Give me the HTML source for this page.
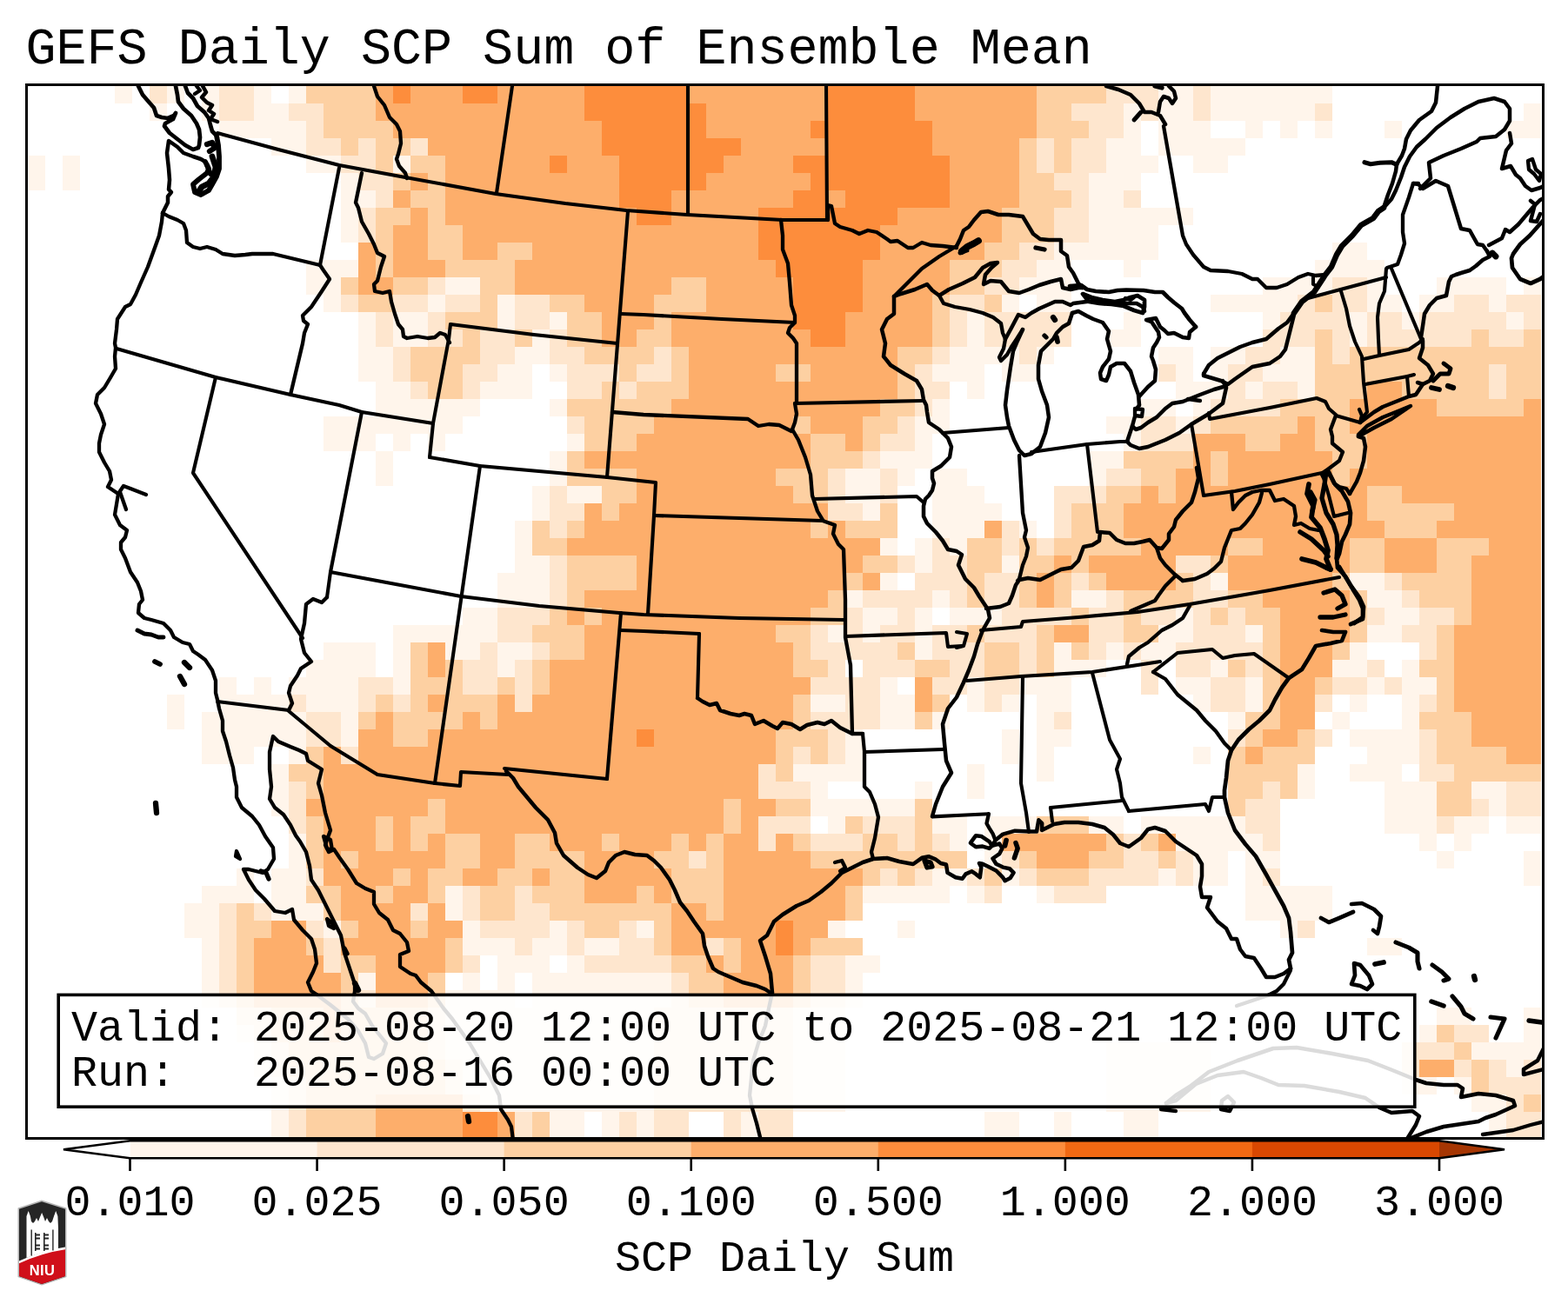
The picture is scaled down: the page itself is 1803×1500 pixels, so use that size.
<!DOCTYPE html>
<html><head><meta charset="utf-8"><title>GEFS Daily SCP Sum of Ensemble Mean</title>
<style>
html,body{margin:0;padding:0;background:#fff;}
svg{display:block;}
.t{font-family:"Liberation Mono","DejaVu Sans Mono",monospace;font-size:50px;fill:#000;}
.ttl{font-family:"Liberation Mono","DejaVu Sans Mono",monospace;font-size:58.4px;fill:#000;}
</style></head><body>
<svg xmlns="http://www.w3.org/2000/svg" width="1803" height="1500" viewBox="0 0 1803 1500">
<rect x="0" y="0" width="1803" height="1500" fill="#fff"/>
<defs><clipPath id="fr"><rect x="32" y="99" width="1741" height="1209"/></clipPath></defs>
<g clip-path="url(#fr)">
<g shape-rendering="crispEdges">
<rect x="132" y="99" width="20" height="20" fill="#fff5eb"/>
<rect x="172" y="99" width="20" height="20" fill="#fee6ce"/>
<rect x="192" y="99" width="20" height="20" fill="#fff5eb"/>
<rect x="232" y="99" width="20" height="20" fill="#fff5eb"/>
<rect x="252" y="99" width="40" height="20" fill="#fee6ce"/>
<rect x="292" y="99" width="20" height="20" fill="#fff5eb"/>
<rect x="332" y="99" width="20" height="20" fill="#fff5eb"/>
<rect x="352" y="99" width="80" height="20" fill="#fdd0a2"/>
<rect x="432" y="99" width="20" height="20" fill="#fdae6b"/>
<rect x="452" y="99" width="20" height="20" fill="#fd8d3c"/>
<rect x="472" y="99" width="60" height="20" fill="#fdae6b"/>
<rect x="532" y="99" width="40" height="20" fill="#fd8d3c"/>
<rect x="572" y="99" width="100" height="20" fill="#fdae6b"/>
<rect x="672" y="99" width="120" height="20" fill="#fd8d3c"/>
<rect x="792" y="99" width="160" height="20" fill="#fdae6b"/>
<rect x="952" y="99" width="100" height="20" fill="#fd8d3c"/>
<rect x="1052" y="99" width="140" height="20" fill="#fdae6b"/>
<rect x="1192" y="99" width="80" height="20" fill="#fdd0a2"/>
<rect x="1272" y="99" width="60" height="20" fill="#fee6ce"/>
<rect x="1332" y="99" width="40" height="20" fill="#fff5eb"/>
<rect x="1372" y="99" width="20" height="20" fill="#fee6ce"/>
<rect x="1392" y="99" width="140" height="20" fill="#fff5eb"/>
<rect x="172" y="119" width="20" height="20" fill="#fff5eb"/>
<rect x="232" y="119" width="20" height="20" fill="#fff5eb"/>
<rect x="252" y="119" width="40" height="20" fill="#fee6ce"/>
<rect x="292" y="119" width="40" height="20" fill="#fff5eb"/>
<rect x="332" y="119" width="40" height="20" fill="#fee6ce"/>
<rect x="372" y="119" width="60" height="20" fill="#fdd0a2"/>
<rect x="432" y="119" width="240" height="20" fill="#fdae6b"/>
<rect x="672" y="119" width="140" height="20" fill="#fd8d3c"/>
<rect x="812" y="119" width="140" height="20" fill="#fdae6b"/>
<rect x="952" y="119" width="100" height="20" fill="#fd8d3c"/>
<rect x="1052" y="119" width="140" height="20" fill="#fdae6b"/>
<rect x="1192" y="119" width="40" height="20" fill="#fdd0a2"/>
<rect x="1232" y="119" width="60" height="20" fill="#fee6ce"/>
<rect x="1292" y="119" width="20" height="20" fill="#fff5eb"/>
<rect x="1312" y="119" width="20" height="20" fill="#fee6ce"/>
<rect x="1332" y="119" width="40" height="20" fill="#fff5eb"/>
<rect x="1372" y="119" width="20" height="20" fill="#fee6ce"/>
<rect x="1392" y="119" width="120" height="20" fill="#fff5eb"/>
<rect x="1512" y="119" width="20" height="20" fill="#fee6ce"/>
<rect x="1752" y="119" width="20" height="20" fill="#fff5eb"/>
<rect x="252" y="139" width="100" height="20" fill="#fff5eb"/>
<rect x="352" y="139" width="20" height="20" fill="#fee6ce"/>
<rect x="372" y="139" width="80" height="20" fill="#fdd0a2"/>
<rect x="452" y="139" width="240" height="20" fill="#fdae6b"/>
<rect x="692" y="139" width="120" height="20" fill="#fd8d3c"/>
<rect x="812" y="139" width="120" height="20" fill="#fdae6b"/>
<rect x="932" y="139" width="140" height="20" fill="#fd8d3c"/>
<rect x="1072" y="139" width="120" height="20" fill="#fdae6b"/>
<rect x="1192" y="139" width="60" height="20" fill="#fdd0a2"/>
<rect x="1252" y="139" width="40" height="20" fill="#fee6ce"/>
<rect x="1292" y="139" width="20" height="20" fill="#fff5eb"/>
<rect x="1332" y="139" width="60" height="20" fill="#fff5eb"/>
<rect x="1432" y="139" width="20" height="20" fill="#fff5eb"/>
<rect x="1472" y="139" width="20" height="20" fill="#fff5eb"/>
<rect x="1512" y="139" width="20" height="20" fill="#fff5eb"/>
<rect x="1592" y="139" width="20" height="20" fill="#fff5eb"/>
<rect x="1732" y="139" width="40" height="20" fill="#fff5eb"/>
<rect x="312" y="159" width="40" height="20" fill="#fff5eb"/>
<rect x="352" y="159" width="40" height="20" fill="#fee6ce"/>
<rect x="392" y="159" width="20" height="20" fill="#fdd0a2"/>
<rect x="412" y="159" width="20" height="20" fill="#fee6ce"/>
<rect x="432" y="159" width="40" height="20" fill="#fdd0a2"/>
<rect x="472" y="159" width="20" height="20" fill="#fee6ce"/>
<rect x="492" y="159" width="200" height="20" fill="#fdae6b"/>
<rect x="692" y="159" width="160" height="20" fill="#fd8d3c"/>
<rect x="852" y="159" width="100" height="20" fill="#fdae6b"/>
<rect x="952" y="159" width="120" height="20" fill="#fd8d3c"/>
<rect x="1072" y="159" width="100" height="20" fill="#fdae6b"/>
<rect x="1172" y="159" width="20" height="20" fill="#fdd0a2"/>
<rect x="1192" y="159" width="20" height="20" fill="#fee6ce"/>
<rect x="1212" y="159" width="20" height="20" fill="#fdd0a2"/>
<rect x="1232" y="159" width="40" height="20" fill="#fee6ce"/>
<rect x="1272" y="159" width="40" height="20" fill="#fff5eb"/>
<rect x="1332" y="159" width="100" height="20" fill="#fff5eb"/>
<rect x="32" y="179" width="20" height="20" fill="#fff5eb"/>
<rect x="72" y="179" width="20" height="20" fill="#fff5eb"/>
<rect x="352" y="179" width="40" height="20" fill="#fff5eb"/>
<rect x="392" y="179" width="40" height="20" fill="#fee6ce"/>
<rect x="432" y="179" width="20" height="20" fill="#fdd0a2"/>
<rect x="452" y="179" width="20" height="20" fill="#fff5eb"/>
<rect x="472" y="179" width="40" height="20" fill="#fdd0a2"/>
<rect x="512" y="179" width="120" height="20" fill="#fdae6b"/>
<rect x="632" y="179" width="20" height="20" fill="#fd8d3c"/>
<rect x="652" y="179" width="60" height="20" fill="#fdae6b"/>
<rect x="712" y="179" width="120" height="20" fill="#fd8d3c"/>
<rect x="832" y="179" width="80" height="20" fill="#fdae6b"/>
<rect x="912" y="179" width="180" height="20" fill="#fd8d3c"/>
<rect x="1092" y="179" width="80" height="20" fill="#fdae6b"/>
<rect x="1172" y="179" width="20" height="20" fill="#fdd0a2"/>
<rect x="1192" y="179" width="20" height="20" fill="#fee6ce"/>
<rect x="1212" y="179" width="20" height="20" fill="#fdd0a2"/>
<rect x="1232" y="179" width="40" height="20" fill="#fee6ce"/>
<rect x="1272" y="179" width="60" height="20" fill="#fff5eb"/>
<rect x="1372" y="179" width="40" height="20" fill="#fff5eb"/>
<rect x="32" y="199" width="20" height="20" fill="#fff5eb"/>
<rect x="72" y="199" width="20" height="20" fill="#fff5eb"/>
<rect x="392" y="199" width="20" height="20" fill="#fff5eb"/>
<rect x="412" y="199" width="40" height="20" fill="#fee6ce"/>
<rect x="452" y="199" width="20" height="20" fill="#fdd0a2"/>
<rect x="472" y="199" width="20" height="20" fill="#fdae6b"/>
<rect x="492" y="199" width="20" height="20" fill="#fdd0a2"/>
<rect x="512" y="199" width="200" height="20" fill="#fdae6b"/>
<rect x="712" y="199" width="100" height="20" fill="#fd8d3c"/>
<rect x="812" y="199" width="120" height="20" fill="#fdae6b"/>
<rect x="932" y="199" width="160" height="20" fill="#fd8d3c"/>
<rect x="1092" y="199" width="80" height="20" fill="#fdae6b"/>
<rect x="1172" y="199" width="40" height="20" fill="#fdd0a2"/>
<rect x="1212" y="199" width="40" height="20" fill="#fee6ce"/>
<rect x="1252" y="199" width="60" height="20" fill="#fff5eb"/>
<rect x="392" y="219" width="40" height="20" fill="#fff5eb"/>
<rect x="432" y="219" width="20" height="20" fill="#fee6ce"/>
<rect x="452" y="219" width="20" height="20" fill="#fdae6b"/>
<rect x="472" y="219" width="40" height="20" fill="#fdd0a2"/>
<rect x="512" y="219" width="200" height="20" fill="#fdae6b"/>
<rect x="712" y="219" width="60" height="20" fill="#fd8d3c"/>
<rect x="772" y="219" width="140" height="20" fill="#fdae6b"/>
<rect x="912" y="219" width="40" height="20" fill="#fd8d3c"/>
<rect x="952" y="219" width="20" height="20" fill="#fdae6b"/>
<rect x="972" y="219" width="120" height="20" fill="#fd8d3c"/>
<rect x="1092" y="219" width="80" height="20" fill="#fdae6b"/>
<rect x="1172" y="219" width="60" height="20" fill="#fdd0a2"/>
<rect x="1232" y="219" width="20" height="20" fill="#fee6ce"/>
<rect x="1252" y="219" width="40" height="20" fill="#fff5eb"/>
<rect x="1292" y="219" width="20" height="20" fill="#fee6ce"/>
<rect x="392" y="239" width="20" height="20" fill="#fff5eb"/>
<rect x="412" y="239" width="20" height="20" fill="#fee6ce"/>
<rect x="432" y="239" width="40" height="20" fill="#fdd0a2"/>
<rect x="472" y="239" width="20" height="20" fill="#fdae6b"/>
<rect x="492" y="239" width="20" height="20" fill="#fdd0a2"/>
<rect x="512" y="239" width="220" height="20" fill="#fdae6b"/>
<rect x="732" y="239" width="40" height="20" fill="#fd8d3c"/>
<rect x="772" y="239" width="100" height="20" fill="#fdae6b"/>
<rect x="872" y="239" width="160" height="20" fill="#fd8d3c"/>
<rect x="1032" y="239" width="120" height="20" fill="#fdae6b"/>
<rect x="1152" y="239" width="60" height="20" fill="#fdd0a2"/>
<rect x="1212" y="239" width="40" height="20" fill="#fee6ce"/>
<rect x="1252" y="239" width="120" height="20" fill="#fff5eb"/>
<rect x="392" y="259" width="20" height="20" fill="#fff5eb"/>
<rect x="412" y="259" width="20" height="20" fill="#fee6ce"/>
<rect x="432" y="259" width="20" height="20" fill="#fdd0a2"/>
<rect x="452" y="259" width="40" height="20" fill="#fdae6b"/>
<rect x="492" y="259" width="40" height="20" fill="#fdd0a2"/>
<rect x="532" y="259" width="340" height="20" fill="#fdae6b"/>
<rect x="872" y="259" width="140" height="20" fill="#fd8d3c"/>
<rect x="1012" y="259" width="140" height="20" fill="#fdae6b"/>
<rect x="1152" y="259" width="60" height="20" fill="#fdd0a2"/>
<rect x="1212" y="259" width="40" height="20" fill="#fee6ce"/>
<rect x="1252" y="259" width="80" height="20" fill="#fff5eb"/>
<rect x="412" y="279" width="20" height="20" fill="#fdae6b"/>
<rect x="432" y="279" width="20" height="20" fill="#fdd0a2"/>
<rect x="452" y="279" width="40" height="20" fill="#fdae6b"/>
<rect x="492" y="279" width="40" height="20" fill="#fdd0a2"/>
<rect x="532" y="279" width="40" height="20" fill="#fdae6b"/>
<rect x="572" y="279" width="40" height="20" fill="#fdd0a2"/>
<rect x="612" y="279" width="260" height="20" fill="#fdae6b"/>
<rect x="872" y="279" width="140" height="20" fill="#fd8d3c"/>
<rect x="1012" y="279" width="120" height="20" fill="#fdae6b"/>
<rect x="1132" y="279" width="40" height="20" fill="#fdd0a2"/>
<rect x="1172" y="279" width="40" height="20" fill="#fee6ce"/>
<rect x="1212" y="279" width="120" height="20" fill="#fff5eb"/>
<rect x="1532" y="279" width="40" height="20" fill="#fff5eb"/>
<rect x="352" y="299" width="60" height="20" fill="#fff5eb"/>
<rect x="412" y="299" width="20" height="20" fill="#fdae6b"/>
<rect x="432" y="299" width="20" height="20" fill="#fdd0a2"/>
<rect x="452" y="299" width="60" height="20" fill="#fdae6b"/>
<rect x="512" y="299" width="80" height="20" fill="#fdd0a2"/>
<rect x="592" y="299" width="300" height="20" fill="#fdae6b"/>
<rect x="892" y="299" width="100" height="20" fill="#fd8d3c"/>
<rect x="992" y="299" width="100" height="20" fill="#fdae6b"/>
<rect x="1092" y="299" width="60" height="20" fill="#fdd0a2"/>
<rect x="1152" y="299" width="40" height="20" fill="#fee6ce"/>
<rect x="1192" y="299" width="40" height="20" fill="#fff5eb"/>
<rect x="1292" y="299" width="20" height="20" fill="#fff5eb"/>
<rect x="1512" y="299" width="80" height="20" fill="#fff5eb"/>
<rect x="352" y="319" width="40" height="20" fill="#fff5eb"/>
<rect x="392" y="319" width="20" height="20" fill="#fdd0a2"/>
<rect x="412" y="319" width="40" height="20" fill="#fdae6b"/>
<rect x="452" y="319" width="40" height="20" fill="#fdd0a2"/>
<rect x="492" y="319" width="20" height="20" fill="#fee6ce"/>
<rect x="512" y="319" width="40" height="20" fill="#fff5eb"/>
<rect x="552" y="319" width="40" height="20" fill="#fdd0a2"/>
<rect x="592" y="319" width="180" height="20" fill="#fdae6b"/>
<rect x="772" y="319" width="40" height="20" fill="#fdd0a2"/>
<rect x="812" y="319" width="100" height="20" fill="#fdae6b"/>
<rect x="912" y="319" width="80" height="20" fill="#fd8d3c"/>
<rect x="992" y="319" width="100" height="20" fill="#fdae6b"/>
<rect x="1092" y="319" width="40" height="20" fill="#fdd0a2"/>
<rect x="1132" y="319" width="40" height="20" fill="#fee6ce"/>
<rect x="1172" y="319" width="60" height="20" fill="#fff5eb"/>
<rect x="1452" y="319" width="80" height="20" fill="#fff5eb"/>
<rect x="1532" y="319" width="40" height="20" fill="#fee6ce"/>
<rect x="1572" y="319" width="20" height="20" fill="#fff5eb"/>
<rect x="1652" y="319" width="80" height="20" fill="#fff5eb"/>
<rect x="1752" y="319" width="20" height="20" fill="#fff5eb"/>
<rect x="372" y="339" width="20" height="20" fill="#fff5eb"/>
<rect x="392" y="339" width="20" height="20" fill="#fee6ce"/>
<rect x="412" y="339" width="40" height="20" fill="#fdd0a2"/>
<rect x="452" y="339" width="40" height="20" fill="#fee6ce"/>
<rect x="492" y="339" width="20" height="20" fill="#fff5eb"/>
<rect x="512" y="339" width="40" height="20" fill="#fee6ce"/>
<rect x="552" y="339" width="20" height="20" fill="#fdd0a2"/>
<rect x="572" y="339" width="20" height="20" fill="#fff5eb"/>
<rect x="592" y="339" width="40" height="20" fill="#fee6ce"/>
<rect x="632" y="339" width="40" height="20" fill="#fdd0a2"/>
<rect x="672" y="339" width="80" height="20" fill="#fdae6b"/>
<rect x="752" y="339" width="60" height="20" fill="#fdd0a2"/>
<rect x="812" y="339" width="100" height="20" fill="#fdae6b"/>
<rect x="912" y="339" width="80" height="20" fill="#fd8d3c"/>
<rect x="992" y="339" width="80" height="20" fill="#fdae6b"/>
<rect x="1072" y="339" width="20" height="20" fill="#fdd0a2"/>
<rect x="1092" y="339" width="40" height="20" fill="#fee6ce"/>
<rect x="1132" y="339" width="20" height="20" fill="#fdd0a2"/>
<rect x="1152" y="339" width="20" height="20" fill="#fff5eb"/>
<rect x="1192" y="339" width="40" height="20" fill="#fff5eb"/>
<rect x="1392" y="339" width="100" height="20" fill="#fff5eb"/>
<rect x="1492" y="339" width="20" height="20" fill="#fee6ce"/>
<rect x="1512" y="339" width="20" height="20" fill="#fdd0a2"/>
<rect x="1532" y="339" width="40" height="20" fill="#fee6ce"/>
<rect x="1572" y="339" width="40" height="20" fill="#fff5eb"/>
<rect x="1632" y="339" width="40" height="20" fill="#fff5eb"/>
<rect x="1672" y="339" width="40" height="20" fill="#fee6ce"/>
<rect x="1712" y="339" width="20" height="20" fill="#fff5eb"/>
<rect x="1732" y="339" width="40" height="20" fill="#fee6ce"/>
<rect x="412" y="359" width="20" height="20" fill="#fff5eb"/>
<rect x="432" y="359" width="20" height="20" fill="#fee6ce"/>
<rect x="452" y="359" width="40" height="20" fill="#fff5eb"/>
<rect x="492" y="359" width="20" height="20" fill="#fee6ce"/>
<rect x="512" y="359" width="60" height="20" fill="#fdd0a2"/>
<rect x="572" y="359" width="20" height="20" fill="#fff5eb"/>
<rect x="592" y="359" width="40" height="20" fill="#fee6ce"/>
<rect x="632" y="359" width="20" height="20" fill="#fff5eb"/>
<rect x="652" y="359" width="40" height="20" fill="#fdd0a2"/>
<rect x="692" y="359" width="60" height="20" fill="#fdae6b"/>
<rect x="752" y="359" width="20" height="20" fill="#fdd0a2"/>
<rect x="772" y="359" width="140" height="20" fill="#fdae6b"/>
<rect x="912" y="359" width="60" height="20" fill="#fd8d3c"/>
<rect x="972" y="359" width="100" height="20" fill="#fdae6b"/>
<rect x="1072" y="359" width="20" height="20" fill="#fdd0a2"/>
<rect x="1092" y="359" width="20" height="20" fill="#fee6ce"/>
<rect x="1112" y="359" width="20" height="20" fill="#fff5eb"/>
<rect x="1132" y="359" width="100" height="20" fill="#fee6ce"/>
<rect x="1292" y="359" width="20" height="20" fill="#fff5eb"/>
<rect x="1452" y="359" width="20" height="20" fill="#fff5eb"/>
<rect x="1472" y="359" width="80" height="20" fill="#fee6ce"/>
<rect x="1552" y="359" width="20" height="20" fill="#fff5eb"/>
<rect x="1572" y="359" width="40" height="20" fill="#fee6ce"/>
<rect x="1612" y="359" width="20" height="20" fill="#fff5eb"/>
<rect x="1632" y="359" width="100" height="20" fill="#fee6ce"/>
<rect x="1732" y="359" width="20" height="20" fill="#fff5eb"/>
<rect x="1752" y="359" width="20" height="20" fill="#fee6ce"/>
<rect x="412" y="379" width="20" height="20" fill="#fff5eb"/>
<rect x="432" y="379" width="20" height="20" fill="#fee6ce"/>
<rect x="452" y="379" width="40" height="20" fill="#fff5eb"/>
<rect x="492" y="379" width="40" height="20" fill="#fee6ce"/>
<rect x="532" y="379" width="20" height="20" fill="#fdd0a2"/>
<rect x="552" y="379" width="40" height="20" fill="#fee6ce"/>
<rect x="592" y="379" width="20" height="20" fill="#fdd0a2"/>
<rect x="612" y="379" width="20" height="20" fill="#fff5eb"/>
<rect x="632" y="379" width="20" height="20" fill="#fee6ce"/>
<rect x="652" y="379" width="40" height="20" fill="#fdd0a2"/>
<rect x="692" y="379" width="40" height="20" fill="#fdae6b"/>
<rect x="732" y="379" width="40" height="20" fill="#fdd0a2"/>
<rect x="772" y="379" width="160" height="20" fill="#fdae6b"/>
<rect x="932" y="379" width="40" height="20" fill="#fd8d3c"/>
<rect x="972" y="379" width="100" height="20" fill="#fdae6b"/>
<rect x="1072" y="379" width="20" height="20" fill="#fdd0a2"/>
<rect x="1092" y="379" width="20" height="20" fill="#fee6ce"/>
<rect x="1112" y="379" width="20" height="20" fill="#fff5eb"/>
<rect x="1132" y="379" width="100" height="20" fill="#fee6ce"/>
<rect x="1272" y="379" width="40" height="20" fill="#fff5eb"/>
<rect x="1452" y="379" width="60" height="20" fill="#fee6ce"/>
<rect x="1512" y="379" width="20" height="20" fill="#fdd0a2"/>
<rect x="1532" y="379" width="20" height="20" fill="#fee6ce"/>
<rect x="1552" y="379" width="20" height="20" fill="#fff5eb"/>
<rect x="1572" y="379" width="120" height="20" fill="#fee6ce"/>
<rect x="1692" y="379" width="20" height="20" fill="#fdd0a2"/>
<rect x="1712" y="379" width="40" height="20" fill="#fee6ce"/>
<rect x="1752" y="379" width="20" height="20" fill="#fdd0a2"/>
<rect x="412" y="399" width="40" height="20" fill="#fff5eb"/>
<rect x="452" y="399" width="20" height="20" fill="#fee6ce"/>
<rect x="472" y="399" width="80" height="20" fill="#fdd0a2"/>
<rect x="552" y="399" width="40" height="20" fill="#fee6ce"/>
<rect x="592" y="399" width="40" height="20" fill="#fff5eb"/>
<rect x="632" y="399" width="40" height="20" fill="#fee6ce"/>
<rect x="672" y="399" width="80" height="20" fill="#fdd0a2"/>
<rect x="752" y="399" width="20" height="20" fill="#fee6ce"/>
<rect x="772" y="399" width="20" height="20" fill="#fdd0a2"/>
<rect x="792" y="399" width="240" height="20" fill="#fdae6b"/>
<rect x="1032" y="399" width="40" height="20" fill="#fdd0a2"/>
<rect x="1072" y="399" width="20" height="20" fill="#fee6ce"/>
<rect x="1092" y="399" width="80" height="20" fill="#fff5eb"/>
<rect x="1172" y="399" width="20" height="20" fill="#fee6ce"/>
<rect x="1192" y="399" width="20" height="20" fill="#fff5eb"/>
<rect x="1332" y="399" width="40" height="20" fill="#fff5eb"/>
<rect x="1392" y="399" width="40" height="20" fill="#fff5eb"/>
<rect x="1432" y="399" width="40" height="20" fill="#fee6ce"/>
<rect x="1472" y="399" width="40" height="20" fill="#fff5eb"/>
<rect x="1512" y="399" width="20" height="20" fill="#fdd0a2"/>
<rect x="1532" y="399" width="20" height="20" fill="#fee6ce"/>
<rect x="1552" y="399" width="220" height="20" fill="#fdd0a2"/>
<rect x="412" y="419" width="40" height="20" fill="#fff5eb"/>
<rect x="452" y="419" width="20" height="20" fill="#fee6ce"/>
<rect x="472" y="419" width="60" height="20" fill="#fdd0a2"/>
<rect x="532" y="419" width="40" height="20" fill="#fee6ce"/>
<rect x="572" y="419" width="40" height="20" fill="#fff5eb"/>
<rect x="632" y="419" width="20" height="20" fill="#fff5eb"/>
<rect x="652" y="419" width="60" height="20" fill="#fee6ce"/>
<rect x="712" y="419" width="20" height="20" fill="#fdd0a2"/>
<rect x="732" y="419" width="40" height="20" fill="#fee6ce"/>
<rect x="772" y="419" width="20" height="20" fill="#fdd0a2"/>
<rect x="792" y="419" width="100" height="20" fill="#fdae6b"/>
<rect x="892" y="419" width="40" height="20" fill="#fdd0a2"/>
<rect x="932" y="419" width="100" height="20" fill="#fdae6b"/>
<rect x="1032" y="419" width="20" height="20" fill="#fdd0a2"/>
<rect x="1052" y="419" width="20" height="20" fill="#fee6ce"/>
<rect x="1072" y="419" width="60" height="20" fill="#fff5eb"/>
<rect x="1152" y="419" width="40" height="20" fill="#fff5eb"/>
<rect x="1332" y="419" width="20" height="20" fill="#fee6ce"/>
<rect x="1352" y="419" width="20" height="20" fill="#fff5eb"/>
<rect x="1392" y="419" width="20" height="20" fill="#fff5eb"/>
<rect x="1412" y="419" width="40" height="20" fill="#fee6ce"/>
<rect x="1452" y="419" width="60" height="20" fill="#fff5eb"/>
<rect x="1512" y="419" width="200" height="20" fill="#fdd0a2"/>
<rect x="1712" y="419" width="20" height="20" fill="#fee6ce"/>
<rect x="1732" y="419" width="40" height="20" fill="#fdd0a2"/>
<rect x="432" y="439" width="40" height="20" fill="#fff5eb"/>
<rect x="472" y="439" width="20" height="20" fill="#fee6ce"/>
<rect x="492" y="439" width="40" height="20" fill="#fdd0a2"/>
<rect x="532" y="439" width="20" height="20" fill="#fee6ce"/>
<rect x="552" y="439" width="60" height="20" fill="#fff5eb"/>
<rect x="652" y="439" width="40" height="20" fill="#fee6ce"/>
<rect x="692" y="439" width="20" height="20" fill="#fdd0a2"/>
<rect x="712" y="439" width="20" height="20" fill="#fee6ce"/>
<rect x="732" y="439" width="60" height="20" fill="#fdd0a2"/>
<rect x="792" y="439" width="240" height="20" fill="#fdae6b"/>
<rect x="1032" y="439" width="20" height="20" fill="#fdd0a2"/>
<rect x="1052" y="439" width="40" height="20" fill="#fee6ce"/>
<rect x="1112" y="439" width="20" height="20" fill="#fff5eb"/>
<rect x="1352" y="439" width="60" height="20" fill="#fff5eb"/>
<rect x="1412" y="439" width="20" height="20" fill="#fee6ce"/>
<rect x="1432" y="439" width="20" height="20" fill="#fff5eb"/>
<rect x="1452" y="439" width="40" height="20" fill="#fee6ce"/>
<rect x="1492" y="439" width="20" height="20" fill="#fff5eb"/>
<rect x="1512" y="439" width="60" height="20" fill="#fdd0a2"/>
<rect x="1572" y="439" width="40" height="20" fill="#fdae6b"/>
<rect x="1612" y="439" width="100" height="20" fill="#fdd0a2"/>
<rect x="1712" y="439" width="20" height="20" fill="#fee6ce"/>
<rect x="1732" y="439" width="40" height="20" fill="#fdd0a2"/>
<rect x="432" y="459" width="120" height="20" fill="#fff5eb"/>
<rect x="632" y="459" width="20" height="20" fill="#fff5eb"/>
<rect x="652" y="459" width="120" height="20" fill="#fdd0a2"/>
<rect x="772" y="459" width="240" height="20" fill="#fdae6b"/>
<rect x="1012" y="459" width="40" height="20" fill="#fdd0a2"/>
<rect x="1052" y="459" width="20" height="20" fill="#fee6ce"/>
<rect x="1072" y="459" width="20" height="20" fill="#fff5eb"/>
<rect x="1312" y="459" width="40" height="20" fill="#fff5eb"/>
<rect x="1372" y="459" width="20" height="20" fill="#fff5eb"/>
<rect x="1392" y="459" width="80" height="20" fill="#fee6ce"/>
<rect x="1472" y="459" width="80" height="20" fill="#fdd0a2"/>
<rect x="1552" y="459" width="100" height="20" fill="#fdae6b"/>
<rect x="1652" y="459" width="100" height="20" fill="#fdd0a2"/>
<rect x="1752" y="459" width="20" height="20" fill="#fdae6b"/>
<rect x="372" y="479" width="160" height="20" fill="#fff5eb"/>
<rect x="652" y="479" width="20" height="20" fill="#fee6ce"/>
<rect x="672" y="479" width="80" height="20" fill="#fdd0a2"/>
<rect x="752" y="479" width="160" height="20" fill="#fdae6b"/>
<rect x="912" y="479" width="20" height="20" fill="#fdd0a2"/>
<rect x="932" y="479" width="60" height="20" fill="#fdae6b"/>
<rect x="992" y="479" width="40" height="20" fill="#fdd0a2"/>
<rect x="1032" y="479" width="20" height="20" fill="#fee6ce"/>
<rect x="1052" y="479" width="40" height="20" fill="#fff5eb"/>
<rect x="1272" y="479" width="40" height="20" fill="#fff5eb"/>
<rect x="1312" y="479" width="40" height="20" fill="#fee6ce"/>
<rect x="1352" y="479" width="20" height="20" fill="#fff5eb"/>
<rect x="1372" y="479" width="20" height="20" fill="#fee6ce"/>
<rect x="1392" y="479" width="100" height="20" fill="#fdd0a2"/>
<rect x="1492" y="479" width="20" height="20" fill="#fdae6b"/>
<rect x="1512" y="479" width="40" height="20" fill="#fdd0a2"/>
<rect x="1552" y="479" width="220" height="20" fill="#fdae6b"/>
<rect x="372" y="499" width="60" height="20" fill="#fff5eb"/>
<rect x="452" y="499" width="20" height="20" fill="#fff5eb"/>
<rect x="492" y="499" width="20" height="20" fill="#fff5eb"/>
<rect x="652" y="499" width="20" height="20" fill="#fff5eb"/>
<rect x="672" y="499" width="60" height="20" fill="#fdd0a2"/>
<rect x="732" y="499" width="200" height="20" fill="#fdae6b"/>
<rect x="932" y="499" width="40" height="20" fill="#fdd0a2"/>
<rect x="972" y="499" width="20" height="20" fill="#fdae6b"/>
<rect x="992" y="499" width="20" height="20" fill="#fdd0a2"/>
<rect x="1012" y="499" width="40" height="20" fill="#fee6ce"/>
<rect x="1052" y="499" width="20" height="20" fill="#fff5eb"/>
<rect x="1292" y="499" width="20" height="20" fill="#fff5eb"/>
<rect x="1312" y="499" width="60" height="20" fill="#fee6ce"/>
<rect x="1372" y="499" width="60" height="20" fill="#fdae6b"/>
<rect x="1432" y="499" width="40" height="20" fill="#fdd0a2"/>
<rect x="1472" y="499" width="40" height="20" fill="#fdae6b"/>
<rect x="1512" y="499" width="60" height="20" fill="#fdd0a2"/>
<rect x="1572" y="499" width="200" height="20" fill="#fdae6b"/>
<rect x="432" y="519" width="20" height="20" fill="#fff5eb"/>
<rect x="632" y="519" width="20" height="20" fill="#fff5eb"/>
<rect x="652" y="519" width="20" height="20" fill="#fdd0a2"/>
<rect x="672" y="519" width="260" height="20" fill="#fdae6b"/>
<rect x="932" y="519" width="60" height="20" fill="#fdd0a2"/>
<rect x="992" y="519" width="20" height="20" fill="#fee6ce"/>
<rect x="1012" y="519" width="60" height="20" fill="#fff5eb"/>
<rect x="1252" y="519" width="40" height="20" fill="#fff5eb"/>
<rect x="1292" y="519" width="80" height="20" fill="#fdd0a2"/>
<rect x="1372" y="519" width="20" height="20" fill="#fdae6b"/>
<rect x="1392" y="519" width="20" height="20" fill="#fdd0a2"/>
<rect x="1412" y="519" width="120" height="20" fill="#fdae6b"/>
<rect x="1532" y="519" width="40" height="20" fill="#fdd0a2"/>
<rect x="1572" y="519" width="200" height="20" fill="#fdae6b"/>
<rect x="432" y="539" width="20" height="20" fill="#fff5eb"/>
<rect x="632" y="539" width="20" height="20" fill="#fff5eb"/>
<rect x="652" y="539" width="80" height="20" fill="#fdd0a2"/>
<rect x="732" y="539" width="160" height="20" fill="#fdae6b"/>
<rect x="892" y="539" width="60" height="20" fill="#fdd0a2"/>
<rect x="952" y="539" width="20" height="20" fill="#fee6ce"/>
<rect x="972" y="539" width="40" height="20" fill="#fff5eb"/>
<rect x="1012" y="539" width="20" height="20" fill="#fee6ce"/>
<rect x="1032" y="539" width="20" height="20" fill="#fff5eb"/>
<rect x="1072" y="539" width="40" height="20" fill="#fff5eb"/>
<rect x="1252" y="539" width="20" height="20" fill="#fff5eb"/>
<rect x="1272" y="539" width="40" height="20" fill="#fee6ce"/>
<rect x="1312" y="539" width="40" height="20" fill="#fdd0a2"/>
<rect x="1352" y="539" width="40" height="20" fill="#fdae6b"/>
<rect x="1392" y="539" width="20" height="20" fill="#fdd0a2"/>
<rect x="1412" y="539" width="120" height="20" fill="#fdae6b"/>
<rect x="1532" y="539" width="20" height="20" fill="#fdd0a2"/>
<rect x="1552" y="539" width="220" height="20" fill="#fdae6b"/>
<rect x="612" y="559" width="20" height="20" fill="#fff5eb"/>
<rect x="632" y="559" width="20" height="20" fill="#fee6ce"/>
<rect x="652" y="559" width="40" height="20" fill="#fff5eb"/>
<rect x="692" y="559" width="40" height="20" fill="#fdd0a2"/>
<rect x="732" y="559" width="180" height="20" fill="#fdae6b"/>
<rect x="912" y="559" width="40" height="20" fill="#fdd0a2"/>
<rect x="952" y="559" width="20" height="20" fill="#fee6ce"/>
<rect x="972" y="559" width="40" height="20" fill="#fff5eb"/>
<rect x="1012" y="559" width="20" height="20" fill="#fee6ce"/>
<rect x="1072" y="559" width="60" height="20" fill="#fff5eb"/>
<rect x="1212" y="559" width="60" height="20" fill="#fee6ce"/>
<rect x="1272" y="559" width="40" height="20" fill="#fdd0a2"/>
<rect x="1312" y="559" width="20" height="20" fill="#fdae6b"/>
<rect x="1332" y="559" width="20" height="20" fill="#fdd0a2"/>
<rect x="1352" y="559" width="220" height="20" fill="#fdae6b"/>
<rect x="1572" y="559" width="40" height="20" fill="#fdd0a2"/>
<rect x="1612" y="559" width="160" height="20" fill="#fdae6b"/>
<rect x="612" y="579" width="20" height="20" fill="#fff5eb"/>
<rect x="632" y="579" width="40" height="20" fill="#fee6ce"/>
<rect x="672" y="579" width="20" height="20" fill="#fdae6b"/>
<rect x="692" y="579" width="20" height="20" fill="#fdd0a2"/>
<rect x="712" y="579" width="240" height="20" fill="#fdae6b"/>
<rect x="952" y="579" width="40" height="20" fill="#fee6ce"/>
<rect x="992" y="579" width="20" height="20" fill="#fff5eb"/>
<rect x="1012" y="579" width="20" height="20" fill="#fdd0a2"/>
<rect x="1072" y="579" width="80" height="20" fill="#fff5eb"/>
<rect x="1212" y="579" width="20" height="20" fill="#fee6ce"/>
<rect x="1232" y="579" width="60" height="20" fill="#fdd0a2"/>
<rect x="1292" y="579" width="280" height="20" fill="#fdae6b"/>
<rect x="1572" y="579" width="100" height="20" fill="#fdd0a2"/>
<rect x="1672" y="579" width="100" height="20" fill="#fdae6b"/>
<rect x="592" y="599" width="20" height="20" fill="#fff5eb"/>
<rect x="612" y="599" width="20" height="20" fill="#fdd0a2"/>
<rect x="632" y="599" width="20" height="20" fill="#fee6ce"/>
<rect x="652" y="599" width="20" height="20" fill="#fdd0a2"/>
<rect x="672" y="599" width="260" height="20" fill="#fdae6b"/>
<rect x="932" y="599" width="20" height="20" fill="#fdd0a2"/>
<rect x="952" y="599" width="20" height="20" fill="#fdae6b"/>
<rect x="972" y="599" width="60" height="20" fill="#fdd0a2"/>
<rect x="1072" y="599" width="60" height="20" fill="#fff5eb"/>
<rect x="1132" y="599" width="20" height="20" fill="#fdae6b"/>
<rect x="1152" y="599" width="20" height="20" fill="#fee6ce"/>
<rect x="1172" y="599" width="20" height="20" fill="#fff5eb"/>
<rect x="1212" y="599" width="20" height="20" fill="#fee6ce"/>
<rect x="1232" y="599" width="60" height="20" fill="#fdd0a2"/>
<rect x="1292" y="599" width="300" height="20" fill="#fdae6b"/>
<rect x="1592" y="599" width="60" height="20" fill="#fdd0a2"/>
<rect x="1652" y="599" width="120" height="20" fill="#fdae6b"/>
<rect x="592" y="619" width="20" height="20" fill="#fff5eb"/>
<rect x="612" y="619" width="40" height="20" fill="#fdd0a2"/>
<rect x="652" y="619" width="360" height="20" fill="#fdae6b"/>
<rect x="1012" y="619" width="20" height="20" fill="#fff5eb"/>
<rect x="1052" y="619" width="20" height="20" fill="#fff5eb"/>
<rect x="1072" y="619" width="20" height="20" fill="#fee6ce"/>
<rect x="1092" y="619" width="20" height="20" fill="#fff5eb"/>
<rect x="1112" y="619" width="40" height="20" fill="#fdd0a2"/>
<rect x="1152" y="619" width="20" height="20" fill="#fee6ce"/>
<rect x="1172" y="619" width="20" height="20" fill="#fdd0a2"/>
<rect x="1192" y="619" width="20" height="20" fill="#fee6ce"/>
<rect x="1212" y="619" width="100" height="20" fill="#fdd0a2"/>
<rect x="1312" y="619" width="100" height="20" fill="#fdae6b"/>
<rect x="1412" y="619" width="40" height="20" fill="#fdd0a2"/>
<rect x="1452" y="619" width="100" height="20" fill="#fdae6b"/>
<rect x="1552" y="619" width="40" height="20" fill="#fdd0a2"/>
<rect x="1592" y="619" width="60" height="20" fill="#fdae6b"/>
<rect x="1652" y="619" width="60" height="20" fill="#fdd0a2"/>
<rect x="1712" y="619" width="60" height="20" fill="#fdae6b"/>
<rect x="592" y="639" width="40" height="20" fill="#fff5eb"/>
<rect x="632" y="639" width="20" height="20" fill="#fee6ce"/>
<rect x="652" y="639" width="80" height="20" fill="#fdd0a2"/>
<rect x="732" y="639" width="260" height="20" fill="#fdae6b"/>
<rect x="992" y="639" width="40" height="20" fill="#fdd0a2"/>
<rect x="1032" y="639" width="20" height="20" fill="#fee6ce"/>
<rect x="1052" y="639" width="20" height="20" fill="#fff5eb"/>
<rect x="1072" y="639" width="40" height="20" fill="#fee6ce"/>
<rect x="1112" y="639" width="40" height="20" fill="#fdd0a2"/>
<rect x="1152" y="639" width="20" height="20" fill="#fff5eb"/>
<rect x="1172" y="639" width="40" height="20" fill="#fdd0a2"/>
<rect x="1212" y="639" width="20" height="20" fill="#fdae6b"/>
<rect x="1232" y="639" width="20" height="20" fill="#fdd0a2"/>
<rect x="1252" y="639" width="100" height="20" fill="#fdae6b"/>
<rect x="1352" y="639" width="40" height="20" fill="#fee6ce"/>
<rect x="1392" y="639" width="20" height="20" fill="#fdd0a2"/>
<rect x="1412" y="639" width="140" height="20" fill="#fdae6b"/>
<rect x="1552" y="639" width="40" height="20" fill="#fdd0a2"/>
<rect x="1592" y="639" width="60" height="20" fill="#fdae6b"/>
<rect x="1652" y="639" width="40" height="20" fill="#fdd0a2"/>
<rect x="1692" y="639" width="80" height="20" fill="#fdae6b"/>
<rect x="572" y="659" width="60" height="20" fill="#fff5eb"/>
<rect x="632" y="659" width="20" height="20" fill="#fee6ce"/>
<rect x="652" y="659" width="80" height="20" fill="#fdd0a2"/>
<rect x="732" y="659" width="240" height="20" fill="#fdae6b"/>
<rect x="972" y="659" width="20" height="20" fill="#fdd0a2"/>
<rect x="992" y="659" width="20" height="20" fill="#fdae6b"/>
<rect x="1012" y="659" width="20" height="20" fill="#fff5eb"/>
<rect x="1052" y="659" width="60" height="20" fill="#fee6ce"/>
<rect x="1112" y="659" width="20" height="20" fill="#fdd0a2"/>
<rect x="1132" y="659" width="40" height="20" fill="#fee6ce"/>
<rect x="1172" y="659" width="20" height="20" fill="#fdd0a2"/>
<rect x="1192" y="659" width="20" height="20" fill="#fdae6b"/>
<rect x="1212" y="659" width="20" height="20" fill="#fdd0a2"/>
<rect x="1232" y="659" width="20" height="20" fill="#fee6ce"/>
<rect x="1252" y="659" width="20" height="20" fill="#fdd0a2"/>
<rect x="1272" y="659" width="80" height="20" fill="#fdae6b"/>
<rect x="1352" y="659" width="20" height="20" fill="#fdd0a2"/>
<rect x="1372" y="659" width="20" height="20" fill="#fee6ce"/>
<rect x="1392" y="659" width="20" height="20" fill="#fff5eb"/>
<rect x="1412" y="659" width="120" height="20" fill="#fdae6b"/>
<rect x="1532" y="659" width="20" height="20" fill="#fdd0a2"/>
<rect x="1552" y="659" width="40" height="20" fill="#fff5eb"/>
<rect x="1592" y="659" width="20" height="20" fill="#fee6ce"/>
<rect x="1612" y="659" width="80" height="20" fill="#fdd0a2"/>
<rect x="1692" y="659" width="80" height="20" fill="#fdae6b"/>
<rect x="572" y="679" width="60" height="20" fill="#fff5eb"/>
<rect x="632" y="679" width="20" height="20" fill="#fee6ce"/>
<rect x="652" y="679" width="20" height="20" fill="#fdd0a2"/>
<rect x="672" y="679" width="280" height="20" fill="#fdae6b"/>
<rect x="952" y="679" width="20" height="20" fill="#fdd0a2"/>
<rect x="972" y="679" width="20" height="20" fill="#fff5eb"/>
<rect x="992" y="679" width="80" height="20" fill="#fee6ce"/>
<rect x="1072" y="679" width="20" height="20" fill="#fff5eb"/>
<rect x="1092" y="679" width="20" height="20" fill="#fee6ce"/>
<rect x="1112" y="679" width="20" height="20" fill="#fdd0a2"/>
<rect x="1132" y="679" width="40" height="20" fill="#fee6ce"/>
<rect x="1172" y="679" width="20" height="20" fill="#fdd0a2"/>
<rect x="1192" y="679" width="20" height="20" fill="#fdae6b"/>
<rect x="1212" y="679" width="20" height="20" fill="#fdd0a2"/>
<rect x="1232" y="679" width="40" height="20" fill="#fff5eb"/>
<rect x="1272" y="679" width="20" height="20" fill="#fee6ce"/>
<rect x="1292" y="679" width="80" height="20" fill="#fdd0a2"/>
<rect x="1372" y="679" width="40" height="20" fill="#fee6ce"/>
<rect x="1412" y="679" width="40" height="20" fill="#fdd0a2"/>
<rect x="1452" y="679" width="100" height="20" fill="#fdae6b"/>
<rect x="1552" y="679" width="20" height="20" fill="#fdd0a2"/>
<rect x="1572" y="679" width="40" height="20" fill="#fff5eb"/>
<rect x="1612" y="679" width="20" height="20" fill="#fee6ce"/>
<rect x="1632" y="679" width="60" height="20" fill="#fdd0a2"/>
<rect x="1692" y="679" width="80" height="20" fill="#fdae6b"/>
<rect x="532" y="699" width="40" height="20" fill="#fff5eb"/>
<rect x="572" y="699" width="60" height="20" fill="#fee6ce"/>
<rect x="632" y="699" width="20" height="20" fill="#fdd0a2"/>
<rect x="652" y="699" width="20" height="20" fill="#fdae6b"/>
<rect x="672" y="699" width="20" height="20" fill="#fdd0a2"/>
<rect x="692" y="699" width="240" height="20" fill="#fdae6b"/>
<rect x="932" y="699" width="40" height="20" fill="#fdd0a2"/>
<rect x="972" y="699" width="20" height="20" fill="#fee6ce"/>
<rect x="992" y="699" width="40" height="20" fill="#fff5eb"/>
<rect x="1032" y="699" width="20" height="20" fill="#fee6ce"/>
<rect x="1052" y="699" width="20" height="20" fill="#fff5eb"/>
<rect x="1092" y="699" width="60" height="20" fill="#fff5eb"/>
<rect x="1152" y="699" width="80" height="20" fill="#fee6ce"/>
<rect x="1232" y="699" width="20" height="20" fill="#fdd0a2"/>
<rect x="1252" y="699" width="40" height="20" fill="#fee6ce"/>
<rect x="1292" y="699" width="20" height="20" fill="#fdd0a2"/>
<rect x="1312" y="699" width="40" height="20" fill="#fee6ce"/>
<rect x="1352" y="699" width="20" height="20" fill="#fff5eb"/>
<rect x="1372" y="699" width="20" height="20" fill="#fee6ce"/>
<rect x="1392" y="699" width="20" height="20" fill="#fdd0a2"/>
<rect x="1412" y="699" width="20" height="20" fill="#fee6ce"/>
<rect x="1432" y="699" width="40" height="20" fill="#fdd0a2"/>
<rect x="1472" y="699" width="80" height="20" fill="#fdae6b"/>
<rect x="1552" y="699" width="20" height="20" fill="#fdd0a2"/>
<rect x="1572" y="699" width="20" height="20" fill="#fee6ce"/>
<rect x="1592" y="699" width="40" height="20" fill="#fff5eb"/>
<rect x="1632" y="699" width="40" height="20" fill="#fee6ce"/>
<rect x="1672" y="699" width="20" height="20" fill="#fdd0a2"/>
<rect x="1692" y="699" width="80" height="20" fill="#fdae6b"/>
<rect x="452" y="719" width="120" height="20" fill="#fff5eb"/>
<rect x="572" y="719" width="40" height="20" fill="#fee6ce"/>
<rect x="612" y="719" width="60" height="20" fill="#fdd0a2"/>
<rect x="672" y="719" width="220" height="20" fill="#fdae6b"/>
<rect x="892" y="719" width="40" height="20" fill="#fdd0a2"/>
<rect x="932" y="719" width="20" height="20" fill="#fee6ce"/>
<rect x="952" y="719" width="20" height="20" fill="#fff5eb"/>
<rect x="972" y="719" width="20" height="20" fill="#fee6ce"/>
<rect x="992" y="719" width="20" height="20" fill="#fff5eb"/>
<rect x="1012" y="719" width="40" height="20" fill="#fee6ce"/>
<rect x="1052" y="719" width="20" height="20" fill="#fff5eb"/>
<rect x="1072" y="719" width="40" height="20" fill="#fee6ce"/>
<rect x="1112" y="719" width="20" height="20" fill="#fdd0a2"/>
<rect x="1132" y="719" width="60" height="20" fill="#fee6ce"/>
<rect x="1192" y="719" width="20" height="20" fill="#fdd0a2"/>
<rect x="1212" y="719" width="40" height="20" fill="#fdae6b"/>
<rect x="1252" y="719" width="40" height="20" fill="#fee6ce"/>
<rect x="1292" y="719" width="40" height="20" fill="#fdd0a2"/>
<rect x="1332" y="719" width="40" height="20" fill="#fff5eb"/>
<rect x="1372" y="719" width="60" height="20" fill="#fee6ce"/>
<rect x="1432" y="719" width="20" height="20" fill="#fff5eb"/>
<rect x="1452" y="719" width="20" height="20" fill="#fdd0a2"/>
<rect x="1472" y="719" width="80" height="20" fill="#fdae6b"/>
<rect x="1552" y="719" width="20" height="20" fill="#fdd0a2"/>
<rect x="1572" y="719" width="40" height="20" fill="#fff5eb"/>
<rect x="1612" y="719" width="40" height="20" fill="#fee6ce"/>
<rect x="1652" y="719" width="20" height="20" fill="#fdd0a2"/>
<rect x="1672" y="719" width="100" height="20" fill="#fdae6b"/>
<rect x="372" y="739" width="60" height="20" fill="#fff5eb"/>
<rect x="452" y="739" width="20" height="20" fill="#fff5eb"/>
<rect x="472" y="739" width="20" height="20" fill="#fdd0a2"/>
<rect x="492" y="739" width="20" height="20" fill="#fdae6b"/>
<rect x="512" y="739" width="40" height="20" fill="#fff5eb"/>
<rect x="552" y="739" width="20" height="20" fill="#fee6ce"/>
<rect x="572" y="739" width="40" height="20" fill="#fff5eb"/>
<rect x="612" y="739" width="20" height="20" fill="#fee6ce"/>
<rect x="632" y="739" width="40" height="20" fill="#fdd0a2"/>
<rect x="672" y="739" width="240" height="20" fill="#fdae6b"/>
<rect x="912" y="739" width="20" height="20" fill="#fdd0a2"/>
<rect x="932" y="739" width="100" height="20" fill="#fee6ce"/>
<rect x="1032" y="739" width="20" height="20" fill="#fdd0a2"/>
<rect x="1052" y="739" width="20" height="20" fill="#fff5eb"/>
<rect x="1072" y="739" width="60" height="20" fill="#fee6ce"/>
<rect x="1132" y="739" width="40" height="20" fill="#fdd0a2"/>
<rect x="1172" y="739" width="20" height="20" fill="#fee6ce"/>
<rect x="1192" y="739" width="20" height="20" fill="#fdd0a2"/>
<rect x="1212" y="739" width="20" height="20" fill="#fff5eb"/>
<rect x="1232" y="739" width="20" height="20" fill="#fdd0a2"/>
<rect x="1252" y="739" width="20" height="20" fill="#fee6ce"/>
<rect x="1272" y="739" width="20" height="20" fill="#fff5eb"/>
<rect x="1292" y="739" width="20" height="20" fill="#fee6ce"/>
<rect x="1312" y="739" width="40" height="20" fill="#fff5eb"/>
<rect x="1352" y="739" width="100" height="20" fill="#fee6ce"/>
<rect x="1452" y="739" width="20" height="20" fill="#fdd0a2"/>
<rect x="1472" y="739" width="60" height="20" fill="#fdae6b"/>
<rect x="1532" y="739" width="20" height="20" fill="#fdd0a2"/>
<rect x="1552" y="739" width="20" height="20" fill="#fff5eb"/>
<rect x="1632" y="739" width="20" height="20" fill="#fee6ce"/>
<rect x="1652" y="739" width="20" height="20" fill="#fdd0a2"/>
<rect x="1672" y="739" width="100" height="20" fill="#fdae6b"/>
<rect x="352" y="759" width="80" height="20" fill="#fff5eb"/>
<rect x="452" y="759" width="20" height="20" fill="#fff5eb"/>
<rect x="472" y="759" width="20" height="20" fill="#fdd0a2"/>
<rect x="492" y="759" width="20" height="20" fill="#fdae6b"/>
<rect x="512" y="759" width="20" height="20" fill="#fdd0a2"/>
<rect x="532" y="759" width="40" height="20" fill="#fee6ce"/>
<rect x="572" y="759" width="20" height="20" fill="#fff5eb"/>
<rect x="592" y="759" width="20" height="20" fill="#fee6ce"/>
<rect x="612" y="759" width="20" height="20" fill="#fdd0a2"/>
<rect x="632" y="759" width="280" height="20" fill="#fdae6b"/>
<rect x="912" y="759" width="40" height="20" fill="#fdd0a2"/>
<rect x="952" y="759" width="20" height="20" fill="#fee6ce"/>
<rect x="992" y="759" width="60" height="20" fill="#fee6ce"/>
<rect x="1052" y="759" width="40" height="20" fill="#fdd0a2"/>
<rect x="1092" y="759" width="40" height="20" fill="#fee6ce"/>
<rect x="1132" y="759" width="40" height="20" fill="#fdd0a2"/>
<rect x="1172" y="759" width="20" height="20" fill="#fee6ce"/>
<rect x="1192" y="759" width="20" height="20" fill="#fdd0a2"/>
<rect x="1212" y="759" width="60" height="20" fill="#fff5eb"/>
<rect x="1312" y="759" width="20" height="20" fill="#fee6ce"/>
<rect x="1352" y="759" width="40" height="20" fill="#fee6ce"/>
<rect x="1392" y="759" width="20" height="20" fill="#fff5eb"/>
<rect x="1412" y="759" width="20" height="20" fill="#fdd0a2"/>
<rect x="1432" y="759" width="20" height="20" fill="#fee6ce"/>
<rect x="1452" y="759" width="20" height="20" fill="#fdd0a2"/>
<rect x="1472" y="759" width="60" height="20" fill="#fdae6b"/>
<rect x="1532" y="759" width="40" height="20" fill="#fff5eb"/>
<rect x="1572" y="759" width="20" height="20" fill="#fee6ce"/>
<rect x="1612" y="759" width="20" height="20" fill="#fff5eb"/>
<rect x="1632" y="759" width="40" height="20" fill="#fdd0a2"/>
<rect x="1672" y="759" width="100" height="20" fill="#fdae6b"/>
<rect x="252" y="779" width="20" height="20" fill="#fff5eb"/>
<rect x="292" y="779" width="20" height="20" fill="#fff5eb"/>
<rect x="332" y="779" width="80" height="20" fill="#fff5eb"/>
<rect x="412" y="779" width="40" height="20" fill="#fee6ce"/>
<rect x="452" y="779" width="20" height="20" fill="#fff5eb"/>
<rect x="472" y="779" width="60" height="20" fill="#fdd0a2"/>
<rect x="532" y="779" width="40" height="20" fill="#fee6ce"/>
<rect x="572" y="779" width="20" height="20" fill="#fdd0a2"/>
<rect x="592" y="779" width="20" height="20" fill="#fee6ce"/>
<rect x="612" y="779" width="20" height="20" fill="#fdd0a2"/>
<rect x="632" y="779" width="300" height="20" fill="#fdae6b"/>
<rect x="932" y="779" width="80" height="20" fill="#fee6ce"/>
<rect x="1012" y="779" width="20" height="20" fill="#fff5eb"/>
<rect x="1052" y="779" width="20" height="20" fill="#fdae6b"/>
<rect x="1072" y="779" width="40" height="20" fill="#fee6ce"/>
<rect x="1112" y="779" width="20" height="20" fill="#fff5eb"/>
<rect x="1132" y="779" width="40" height="20" fill="#fee6ce"/>
<rect x="1172" y="779" width="60" height="20" fill="#fff5eb"/>
<rect x="1312" y="779" width="20" height="20" fill="#fee6ce"/>
<rect x="1352" y="779" width="40" height="20" fill="#fff5eb"/>
<rect x="1392" y="779" width="40" height="20" fill="#fee6ce"/>
<rect x="1432" y="779" width="20" height="20" fill="#fff5eb"/>
<rect x="1452" y="779" width="20" height="20" fill="#fdd0a2"/>
<rect x="1472" y="779" width="40" height="20" fill="#fdae6b"/>
<rect x="1512" y="779" width="20" height="20" fill="#fdd0a2"/>
<rect x="1532" y="779" width="40" height="20" fill="#fee6ce"/>
<rect x="1572" y="779" width="20" height="20" fill="#fff5eb"/>
<rect x="1592" y="779" width="20" height="20" fill="#fee6ce"/>
<rect x="1612" y="779" width="40" height="20" fill="#fff5eb"/>
<rect x="1652" y="779" width="20" height="20" fill="#fdd0a2"/>
<rect x="1672" y="779" width="100" height="20" fill="#fdae6b"/>
<rect x="192" y="799" width="20" height="20" fill="#fff5eb"/>
<rect x="252" y="799" width="80" height="20" fill="#fff5eb"/>
<rect x="332" y="799" width="20" height="20" fill="#fee6ce"/>
<rect x="352" y="799" width="60" height="20" fill="#fff5eb"/>
<rect x="412" y="799" width="20" height="20" fill="#fee6ce"/>
<rect x="432" y="799" width="20" height="20" fill="#fdd0a2"/>
<rect x="452" y="799" width="20" height="20" fill="#fee6ce"/>
<rect x="472" y="799" width="20" height="20" fill="#fdd0a2"/>
<rect x="492" y="799" width="20" height="20" fill="#fdae6b"/>
<rect x="512" y="799" width="60" height="20" fill="#fdd0a2"/>
<rect x="572" y="799" width="20" height="20" fill="#fdae6b"/>
<rect x="592" y="799" width="20" height="20" fill="#fee6ce"/>
<rect x="612" y="799" width="300" height="20" fill="#fdae6b"/>
<rect x="912" y="799" width="20" height="20" fill="#fdd0a2"/>
<rect x="932" y="799" width="40" height="20" fill="#fff5eb"/>
<rect x="972" y="799" width="40" height="20" fill="#fee6ce"/>
<rect x="1012" y="799" width="40" height="20" fill="#fff5eb"/>
<rect x="1052" y="799" width="20" height="20" fill="#fdae6b"/>
<rect x="1072" y="799" width="20" height="20" fill="#fdd0a2"/>
<rect x="1112" y="799" width="20" height="20" fill="#fff5eb"/>
<rect x="1132" y="799" width="20" height="20" fill="#fee6ce"/>
<rect x="1152" y="799" width="20" height="20" fill="#fff5eb"/>
<rect x="1192" y="799" width="40" height="20" fill="#fff5eb"/>
<rect x="1372" y="799" width="20" height="20" fill="#fff5eb"/>
<rect x="1392" y="799" width="40" height="20" fill="#fee6ce"/>
<rect x="1432" y="799" width="20" height="20" fill="#fff5eb"/>
<rect x="1452" y="799" width="20" height="20" fill="#fdd0a2"/>
<rect x="1472" y="799" width="40" height="20" fill="#fdae6b"/>
<rect x="1512" y="799" width="20" height="20" fill="#fee6ce"/>
<rect x="1552" y="799" width="20" height="20" fill="#fff5eb"/>
<rect x="1612" y="799" width="20" height="20" fill="#fff5eb"/>
<rect x="1632" y="799" width="20" height="20" fill="#fee6ce"/>
<rect x="1652" y="799" width="20" height="20" fill="#fdd0a2"/>
<rect x="1672" y="799" width="100" height="20" fill="#fdae6b"/>
<rect x="192" y="819" width="20" height="20" fill="#fff5eb"/>
<rect x="232" y="819" width="120" height="20" fill="#fff5eb"/>
<rect x="352" y="819" width="40" height="20" fill="#fee6ce"/>
<rect x="392" y="819" width="20" height="20" fill="#fff5eb"/>
<rect x="412" y="819" width="20" height="20" fill="#fdd0a2"/>
<rect x="432" y="819" width="20" height="20" fill="#fdae6b"/>
<rect x="452" y="819" width="80" height="20" fill="#fdd0a2"/>
<rect x="532" y="819" width="20" height="20" fill="#fdae6b"/>
<rect x="552" y="819" width="20" height="20" fill="#fdd0a2"/>
<rect x="572" y="819" width="340" height="20" fill="#fdae6b"/>
<rect x="912" y="819" width="20" height="20" fill="#fdd0a2"/>
<rect x="932" y="819" width="80" height="20" fill="#fee6ce"/>
<rect x="1012" y="819" width="40" height="20" fill="#fff5eb"/>
<rect x="1052" y="819" width="20" height="20" fill="#fdd0a2"/>
<rect x="1072" y="819" width="20" height="20" fill="#fff5eb"/>
<rect x="1192" y="819" width="20" height="20" fill="#fff5eb"/>
<rect x="1212" y="819" width="20" height="20" fill="#fee6ce"/>
<rect x="1412" y="819" width="20" height="20" fill="#fff5eb"/>
<rect x="1432" y="819" width="40" height="20" fill="#fdd0a2"/>
<rect x="1472" y="819" width="40" height="20" fill="#fdae6b"/>
<rect x="1532" y="819" width="20" height="20" fill="#fff5eb"/>
<rect x="1612" y="819" width="20" height="20" fill="#fff5eb"/>
<rect x="1632" y="819" width="60" height="20" fill="#fdd0a2"/>
<rect x="1692" y="819" width="80" height="20" fill="#fdae6b"/>
<rect x="232" y="839" width="120" height="20" fill="#fff5eb"/>
<rect x="352" y="839" width="40" height="20" fill="#fee6ce"/>
<rect x="392" y="839" width="20" height="20" fill="#fff5eb"/>
<rect x="412" y="839" width="40" height="20" fill="#fdae6b"/>
<rect x="452" y="839" width="40" height="20" fill="#fdd0a2"/>
<rect x="492" y="839" width="240" height="20" fill="#fdae6b"/>
<rect x="732" y="839" width="20" height="20" fill="#fd8d3c"/>
<rect x="752" y="839" width="140" height="20" fill="#fdae6b"/>
<rect x="892" y="839" width="60" height="20" fill="#fdd0a2"/>
<rect x="952" y="839" width="20" height="20" fill="#fee6ce"/>
<rect x="972" y="839" width="20" height="20" fill="#fff5eb"/>
<rect x="1152" y="839" width="20" height="20" fill="#fff5eb"/>
<rect x="1192" y="839" width="40" height="20" fill="#fff5eb"/>
<rect x="1412" y="839" width="20" height="20" fill="#fee6ce"/>
<rect x="1432" y="839" width="20" height="20" fill="#fdd0a2"/>
<rect x="1452" y="839" width="40" height="20" fill="#fdae6b"/>
<rect x="1492" y="839" width="20" height="20" fill="#fdd0a2"/>
<rect x="1512" y="839" width="20" height="20" fill="#fee6ce"/>
<rect x="1552" y="839" width="80" height="20" fill="#fff5eb"/>
<rect x="1632" y="839" width="20" height="20" fill="#fee6ce"/>
<rect x="1652" y="839" width="40" height="20" fill="#fdd0a2"/>
<rect x="1692" y="839" width="80" height="20" fill="#fdae6b"/>
<rect x="232" y="859" width="60" height="20" fill="#fff5eb"/>
<rect x="332" y="859" width="20" height="20" fill="#fff5eb"/>
<rect x="352" y="859" width="20" height="20" fill="#fdd0a2"/>
<rect x="372" y="859" width="20" height="20" fill="#fdae6b"/>
<rect x="392" y="859" width="20" height="20" fill="#fee6ce"/>
<rect x="412" y="859" width="480" height="20" fill="#fdae6b"/>
<rect x="892" y="859" width="20" height="20" fill="#fdd0a2"/>
<rect x="912" y="859" width="20" height="20" fill="#fee6ce"/>
<rect x="932" y="859" width="20" height="20" fill="#fdd0a2"/>
<rect x="952" y="859" width="20" height="20" fill="#fee6ce"/>
<rect x="972" y="859" width="20" height="20" fill="#fff5eb"/>
<rect x="1152" y="859" width="20" height="20" fill="#fff5eb"/>
<rect x="1192" y="859" width="20" height="20" fill="#fff5eb"/>
<rect x="1372" y="859" width="20" height="20" fill="#fff5eb"/>
<rect x="1412" y="859" width="20" height="20" fill="#fdd0a2"/>
<rect x="1432" y="859" width="20" height="20" fill="#fdae6b"/>
<rect x="1452" y="859" width="60" height="20" fill="#fdd0a2"/>
<rect x="1572" y="859" width="60" height="20" fill="#fff5eb"/>
<rect x="1632" y="859" width="20" height="20" fill="#fee6ce"/>
<rect x="1652" y="859" width="80" height="20" fill="#fdd0a2"/>
<rect x="1732" y="859" width="40" height="20" fill="#fdae6b"/>
<rect x="312" y="879" width="20" height="20" fill="#fff5eb"/>
<rect x="332" y="879" width="40" height="20" fill="#fdd0a2"/>
<rect x="372" y="879" width="500" height="20" fill="#fdae6b"/>
<rect x="872" y="879" width="20" height="20" fill="#fee6ce"/>
<rect x="892" y="879" width="20" height="20" fill="#fdd0a2"/>
<rect x="912" y="879" width="80" height="20" fill="#fff5eb"/>
<rect x="1112" y="879" width="20" height="20" fill="#fff5eb"/>
<rect x="1192" y="879" width="20" height="20" fill="#fff5eb"/>
<rect x="1412" y="879" width="80" height="20" fill="#fdd0a2"/>
<rect x="1492" y="879" width="20" height="20" fill="#fff5eb"/>
<rect x="1552" y="879" width="60" height="20" fill="#fff5eb"/>
<rect x="1632" y="879" width="40" height="20" fill="#fee6ce"/>
<rect x="1672" y="879" width="100" height="20" fill="#fdd0a2"/>
<rect x="312" y="899" width="20" height="20" fill="#fff5eb"/>
<rect x="332" y="899" width="20" height="20" fill="#fee6ce"/>
<rect x="352" y="899" width="20" height="20" fill="#fdd0a2"/>
<rect x="372" y="899" width="500" height="20" fill="#fdae6b"/>
<rect x="872" y="899" width="60" height="20" fill="#fee6ce"/>
<rect x="932" y="899" width="20" height="20" fill="#fff5eb"/>
<rect x="1052" y="899" width="20" height="20" fill="#fff5eb"/>
<rect x="1112" y="899" width="20" height="20" fill="#fff5eb"/>
<rect x="1412" y="899" width="40" height="20" fill="#fdd0a2"/>
<rect x="1452" y="899" width="20" height="20" fill="#fee6ce"/>
<rect x="1472" y="899" width="20" height="20" fill="#fdd0a2"/>
<rect x="1492" y="899" width="20" height="20" fill="#fff5eb"/>
<rect x="1592" y="899" width="60" height="20" fill="#fff5eb"/>
<rect x="1652" y="899" width="40" height="20" fill="#fdd0a2"/>
<rect x="1692" y="899" width="40" height="20" fill="#fff5eb"/>
<rect x="1732" y="899" width="40" height="20" fill="#fee6ce"/>
<rect x="312" y="919" width="20" height="20" fill="#fff5eb"/>
<rect x="332" y="919" width="20" height="20" fill="#fee6ce"/>
<rect x="352" y="919" width="140" height="20" fill="#fdae6b"/>
<rect x="492" y="919" width="20" height="20" fill="#fdd0a2"/>
<rect x="512" y="919" width="320" height="20" fill="#fdae6b"/>
<rect x="832" y="919" width="20" height="20" fill="#fdd0a2"/>
<rect x="852" y="919" width="40" height="20" fill="#fdae6b"/>
<rect x="892" y="919" width="40" height="20" fill="#fdd0a2"/>
<rect x="932" y="919" width="120" height="20" fill="#fff5eb"/>
<rect x="1052" y="919" width="20" height="20" fill="#fdd0a2"/>
<rect x="1412" y="919" width="20" height="20" fill="#fdd0a2"/>
<rect x="1432" y="919" width="40" height="20" fill="#fee6ce"/>
<rect x="1592" y="919" width="60" height="20" fill="#fff5eb"/>
<rect x="1652" y="919" width="40" height="20" fill="#fdd0a2"/>
<rect x="1692" y="919" width="20" height="20" fill="#fee6ce"/>
<rect x="1712" y="919" width="20" height="20" fill="#fff5eb"/>
<rect x="1732" y="919" width="40" height="20" fill="#fee6ce"/>
<rect x="332" y="939" width="20" height="20" fill="#fee6ce"/>
<rect x="352" y="939" width="20" height="20" fill="#fdd0a2"/>
<rect x="372" y="939" width="60" height="20" fill="#fdae6b"/>
<rect x="432" y="939" width="20" height="20" fill="#fdd0a2"/>
<rect x="452" y="939" width="20" height="20" fill="#fdae6b"/>
<rect x="472" y="939" width="40" height="20" fill="#fdd0a2"/>
<rect x="512" y="939" width="320" height="20" fill="#fdae6b"/>
<rect x="832" y="939" width="20" height="20" fill="#fdd0a2"/>
<rect x="852" y="939" width="20" height="20" fill="#fdae6b"/>
<rect x="872" y="939" width="60" height="20" fill="#fee6ce"/>
<rect x="952" y="939" width="20" height="20" fill="#fff5eb"/>
<rect x="972" y="939" width="20" height="20" fill="#fdd0a2"/>
<rect x="992" y="939" width="60" height="20" fill="#fee6ce"/>
<rect x="1052" y="939" width="20" height="20" fill="#fdd0a2"/>
<rect x="1072" y="939" width="40" height="20" fill="#fff5eb"/>
<rect x="1132" y="939" width="60" height="20" fill="#fff5eb"/>
<rect x="1192" y="939" width="60" height="20" fill="#fdd0a2"/>
<rect x="1252" y="939" width="40" height="20" fill="#fff5eb"/>
<rect x="1312" y="939" width="120" height="20" fill="#fff5eb"/>
<rect x="1432" y="939" width="40" height="20" fill="#fee6ce"/>
<rect x="1592" y="939" width="60" height="20" fill="#fff5eb"/>
<rect x="1652" y="939" width="20" height="20" fill="#fee6ce"/>
<rect x="1672" y="939" width="40" height="20" fill="#fff5eb"/>
<rect x="1732" y="939" width="40" height="20" fill="#fff5eb"/>
<rect x="332" y="959" width="20" height="20" fill="#fff5eb"/>
<rect x="352" y="959" width="20" height="20" fill="#fdd0a2"/>
<rect x="372" y="959" width="60" height="20" fill="#fdae6b"/>
<rect x="432" y="959" width="20" height="20" fill="#fdd0a2"/>
<rect x="452" y="959" width="20" height="20" fill="#fdae6b"/>
<rect x="472" y="959" width="20" height="20" fill="#fdd0a2"/>
<rect x="492" y="959" width="20" height="20" fill="#fdae6b"/>
<rect x="512" y="959" width="40" height="20" fill="#fdd0a2"/>
<rect x="552" y="959" width="40" height="20" fill="#fdae6b"/>
<rect x="592" y="959" width="40" height="20" fill="#fdd0a2"/>
<rect x="632" y="959" width="60" height="20" fill="#fdae6b"/>
<rect x="692" y="959" width="20" height="20" fill="#fdd0a2"/>
<rect x="712" y="959" width="60" height="20" fill="#fdae6b"/>
<rect x="772" y="959" width="20" height="20" fill="#fdd0a2"/>
<rect x="792" y="959" width="20" height="20" fill="#fdae6b"/>
<rect x="812" y="959" width="20" height="20" fill="#fdd0a2"/>
<rect x="832" y="959" width="40" height="20" fill="#fdae6b"/>
<rect x="872" y="959" width="20" height="20" fill="#fee6ce"/>
<rect x="892" y="959" width="20" height="20" fill="#fdae6b"/>
<rect x="912" y="959" width="20" height="20" fill="#fdd0a2"/>
<rect x="932" y="959" width="60" height="20" fill="#fee6ce"/>
<rect x="992" y="959" width="40" height="20" fill="#fdd0a2"/>
<rect x="1032" y="959" width="20" height="20" fill="#fee6ce"/>
<rect x="1052" y="959" width="20" height="20" fill="#fdd0a2"/>
<rect x="1072" y="959" width="20" height="20" fill="#fee6ce"/>
<rect x="1092" y="959" width="20" height="20" fill="#fff5eb"/>
<rect x="1132" y="959" width="20" height="20" fill="#fff5eb"/>
<rect x="1152" y="959" width="120" height="20" fill="#fdae6b"/>
<rect x="1272" y="959" width="20" height="20" fill="#fdd0a2"/>
<rect x="1292" y="959" width="20" height="20" fill="#fee6ce"/>
<rect x="1312" y="959" width="20" height="20" fill="#fdd0a2"/>
<rect x="1332" y="959" width="20" height="20" fill="#fdae6b"/>
<rect x="1352" y="959" width="100" height="20" fill="#fff5eb"/>
<rect x="1452" y="959" width="20" height="20" fill="#fee6ce"/>
<rect x="1632" y="959" width="20" height="20" fill="#fff5eb"/>
<rect x="1672" y="959" width="20" height="20" fill="#fff5eb"/>
<rect x="332" y="979" width="20" height="20" fill="#fff5eb"/>
<rect x="352" y="979" width="20" height="20" fill="#fdd0a2"/>
<rect x="372" y="979" width="20" height="20" fill="#fdae6b"/>
<rect x="392" y="979" width="20" height="20" fill="#fdd0a2"/>
<rect x="412" y="979" width="100" height="20" fill="#fdae6b"/>
<rect x="512" y="979" width="40" height="20" fill="#fdd0a2"/>
<rect x="552" y="979" width="40" height="20" fill="#fdae6b"/>
<rect x="592" y="979" width="80" height="20" fill="#fdd0a2"/>
<rect x="672" y="979" width="80" height="20" fill="#fdae6b"/>
<rect x="752" y="979" width="40" height="20" fill="#fdd0a2"/>
<rect x="792" y="979" width="20" height="20" fill="#fee6ce"/>
<rect x="812" y="979" width="20" height="20" fill="#fdd0a2"/>
<rect x="832" y="979" width="100" height="20" fill="#fdae6b"/>
<rect x="932" y="979" width="180" height="20" fill="#fdd0a2"/>
<rect x="1132" y="979" width="20" height="20" fill="#fff5eb"/>
<rect x="1152" y="979" width="20" height="20" fill="#fee6ce"/>
<rect x="1172" y="979" width="20" height="20" fill="#fdd0a2"/>
<rect x="1192" y="979" width="60" height="20" fill="#fdae6b"/>
<rect x="1252" y="979" width="40" height="20" fill="#fdd0a2"/>
<rect x="1292" y="979" width="40" height="20" fill="#fee6ce"/>
<rect x="1332" y="979" width="20" height="20" fill="#fdd0a2"/>
<rect x="1352" y="979" width="20" height="20" fill="#fee6ce"/>
<rect x="1372" y="979" width="40" height="20" fill="#fff5eb"/>
<rect x="1432" y="979" width="40" height="20" fill="#fff5eb"/>
<rect x="1652" y="979" width="20" height="20" fill="#fff5eb"/>
<rect x="1752" y="979" width="20" height="20" fill="#fff5eb"/>
<rect x="272" y="999" width="20" height="20" fill="#fff5eb"/>
<rect x="312" y="999" width="40" height="20" fill="#fff5eb"/>
<rect x="352" y="999" width="20" height="20" fill="#fee6ce"/>
<rect x="372" y="999" width="80" height="20" fill="#fdae6b"/>
<rect x="452" y="999" width="20" height="20" fill="#fdd0a2"/>
<rect x="472" y="999" width="20" height="20" fill="#fdae6b"/>
<rect x="492" y="999" width="40" height="20" fill="#fdd0a2"/>
<rect x="532" y="999" width="40" height="20" fill="#fdae6b"/>
<rect x="572" y="999" width="40" height="20" fill="#fdd0a2"/>
<rect x="612" y="999" width="20" height="20" fill="#fdae6b"/>
<rect x="632" y="999" width="40" height="20" fill="#fdd0a2"/>
<rect x="672" y="999" width="100" height="20" fill="#fdae6b"/>
<rect x="772" y="999" width="60" height="20" fill="#fdd0a2"/>
<rect x="832" y="999" width="160" height="20" fill="#fdae6b"/>
<rect x="992" y="999" width="20" height="20" fill="#fdd0a2"/>
<rect x="1012" y="999" width="20" height="20" fill="#fee6ce"/>
<rect x="1032" y="999" width="20" height="20" fill="#fdd0a2"/>
<rect x="1052" y="999" width="20" height="20" fill="#fee6ce"/>
<rect x="1072" y="999" width="40" height="20" fill="#fff5eb"/>
<rect x="1112" y="999" width="20" height="20" fill="#fee6ce"/>
<rect x="1132" y="999" width="20" height="20" fill="#fdd0a2"/>
<rect x="1152" y="999" width="20" height="20" fill="#fff5eb"/>
<rect x="1172" y="999" width="20" height="20" fill="#fee6ce"/>
<rect x="1192" y="999" width="60" height="20" fill="#fdd0a2"/>
<rect x="1252" y="999" width="80" height="20" fill="#fee6ce"/>
<rect x="1332" y="999" width="20" height="20" fill="#fff5eb"/>
<rect x="1352" y="999" width="20" height="20" fill="#fee6ce"/>
<rect x="1372" y="999" width="40" height="20" fill="#fff5eb"/>
<rect x="1432" y="999" width="20" height="20" fill="#fff5eb"/>
<rect x="1452" y="999" width="20" height="20" fill="#fee6ce"/>
<rect x="1752" y="999" width="20" height="20" fill="#fff5eb"/>
<rect x="232" y="1019" width="60" height="20" fill="#fff5eb"/>
<rect x="312" y="1019" width="40" height="20" fill="#fff5eb"/>
<rect x="352" y="1019" width="40" height="20" fill="#fdd0a2"/>
<rect x="392" y="1019" width="40" height="20" fill="#fdae6b"/>
<rect x="432" y="1019" width="20" height="20" fill="#fdd0a2"/>
<rect x="452" y="1019" width="40" height="20" fill="#fdae6b"/>
<rect x="492" y="1019" width="20" height="20" fill="#fdd0a2"/>
<rect x="512" y="1019" width="20" height="20" fill="#fff5eb"/>
<rect x="532" y="1019" width="20" height="20" fill="#fee6ce"/>
<rect x="552" y="1019" width="40" height="20" fill="#fdd0a2"/>
<rect x="592" y="1019" width="20" height="20" fill="#fee6ce"/>
<rect x="612" y="1019" width="60" height="20" fill="#fdd0a2"/>
<rect x="672" y="1019" width="60" height="20" fill="#fdae6b"/>
<rect x="732" y="1019" width="20" height="20" fill="#fdd0a2"/>
<rect x="752" y="1019" width="20" height="20" fill="#fdae6b"/>
<rect x="772" y="1019" width="60" height="20" fill="#fdd0a2"/>
<rect x="832" y="1019" width="140" height="20" fill="#fdae6b"/>
<rect x="972" y="1019" width="20" height="20" fill="#fdd0a2"/>
<rect x="992" y="1019" width="100" height="20" fill="#fff5eb"/>
<rect x="1112" y="1019" width="20" height="20" fill="#fff5eb"/>
<rect x="1132" y="1019" width="20" height="20" fill="#fee6ce"/>
<rect x="1192" y="1019" width="20" height="20" fill="#fff5eb"/>
<rect x="1212" y="1019" width="60" height="20" fill="#fee6ce"/>
<rect x="1432" y="1019" width="100" height="20" fill="#fff5eb"/>
<rect x="212" y="1039" width="40" height="20" fill="#fff5eb"/>
<rect x="252" y="1039" width="20" height="20" fill="#fee6ce"/>
<rect x="272" y="1039" width="20" height="20" fill="#fdd0a2"/>
<rect x="292" y="1039" width="20" height="20" fill="#fee6ce"/>
<rect x="312" y="1039" width="60" height="20" fill="#fff5eb"/>
<rect x="372" y="1039" width="20" height="20" fill="#fdd0a2"/>
<rect x="392" y="1039" width="80" height="20" fill="#fdae6b"/>
<rect x="472" y="1039" width="20" height="20" fill="#fee6ce"/>
<rect x="492" y="1039" width="20" height="20" fill="#fdae6b"/>
<rect x="512" y="1039" width="20" height="20" fill="#fff5eb"/>
<rect x="532" y="1039" width="20" height="20" fill="#fee6ce"/>
<rect x="552" y="1039" width="40" height="20" fill="#fdd0a2"/>
<rect x="592" y="1039" width="40" height="20" fill="#fee6ce"/>
<rect x="632" y="1039" width="140" height="20" fill="#fdd0a2"/>
<rect x="772" y="1039" width="40" height="20" fill="#fdae6b"/>
<rect x="812" y="1039" width="20" height="20" fill="#fdd0a2"/>
<rect x="832" y="1039" width="140" height="20" fill="#fdae6b"/>
<rect x="972" y="1039" width="20" height="20" fill="#fdd0a2"/>
<rect x="1432" y="1039" width="100" height="20" fill="#fff5eb"/>
<rect x="212" y="1059" width="40" height="20" fill="#fff5eb"/>
<rect x="252" y="1059" width="20" height="20" fill="#fee6ce"/>
<rect x="272" y="1059" width="40" height="20" fill="#fdd0a2"/>
<rect x="312" y="1059" width="40" height="20" fill="#fdae6b"/>
<rect x="352" y="1059" width="20" height="20" fill="#fee6ce"/>
<rect x="372" y="1059" width="20" height="20" fill="#fff5eb"/>
<rect x="392" y="1059" width="20" height="20" fill="#fdd0a2"/>
<rect x="412" y="1059" width="60" height="20" fill="#fdae6b"/>
<rect x="472" y="1059" width="20" height="20" fill="#fdd0a2"/>
<rect x="492" y="1059" width="40" height="20" fill="#fdae6b"/>
<rect x="532" y="1059" width="20" height="20" fill="#fff5eb"/>
<rect x="552" y="1059" width="80" height="20" fill="#fee6ce"/>
<rect x="632" y="1059" width="20" height="20" fill="#fff5eb"/>
<rect x="652" y="1059" width="20" height="20" fill="#fee6ce"/>
<rect x="672" y="1059" width="40" height="20" fill="#fdd0a2"/>
<rect x="712" y="1059" width="20" height="20" fill="#fee6ce"/>
<rect x="732" y="1059" width="20" height="20" fill="#fff5eb"/>
<rect x="752" y="1059" width="20" height="20" fill="#fdd0a2"/>
<rect x="772" y="1059" width="120" height="20" fill="#fdae6b"/>
<rect x="892" y="1059" width="20" height="20" fill="#fd8d3c"/>
<rect x="912" y="1059" width="40" height="20" fill="#fdae6b"/>
<rect x="952" y="1059" width="20" height="20" fill="#fff5eb"/>
<rect x="1032" y="1059" width="20" height="20" fill="#fff5eb"/>
<rect x="1472" y="1059" width="20" height="20" fill="#fff5eb"/>
<rect x="1492" y="1059" width="20" height="20" fill="#fee6ce"/>
<rect x="232" y="1079" width="20" height="20" fill="#fff5eb"/>
<rect x="252" y="1079" width="20" height="20" fill="#fee6ce"/>
<rect x="272" y="1079" width="20" height="20" fill="#fdd0a2"/>
<rect x="292" y="1079" width="60" height="20" fill="#fdae6b"/>
<rect x="352" y="1079" width="20" height="20" fill="#fdd0a2"/>
<rect x="372" y="1079" width="20" height="20" fill="#fee6ce"/>
<rect x="392" y="1079" width="120" height="20" fill="#fdae6b"/>
<rect x="512" y="1079" width="20" height="20" fill="#fdd0a2"/>
<rect x="532" y="1079" width="60" height="20" fill="#fff5eb"/>
<rect x="592" y="1079" width="20" height="20" fill="#fee6ce"/>
<rect x="612" y="1079" width="40" height="20" fill="#fff5eb"/>
<rect x="652" y="1079" width="20" height="20" fill="#fee6ce"/>
<rect x="672" y="1079" width="40" height="20" fill="#fff5eb"/>
<rect x="712" y="1079" width="40" height="20" fill="#fee6ce"/>
<rect x="752" y="1079" width="20" height="20" fill="#fdd0a2"/>
<rect x="772" y="1079" width="40" height="20" fill="#fdae6b"/>
<rect x="812" y="1079" width="20" height="20" fill="#fee6ce"/>
<rect x="832" y="1079" width="20" height="20" fill="#fdd0a2"/>
<rect x="852" y="1079" width="40" height="20" fill="#fdae6b"/>
<rect x="892" y="1079" width="20" height="20" fill="#fd8d3c"/>
<rect x="912" y="1079" width="20" height="20" fill="#fdae6b"/>
<rect x="932" y="1079" width="60" height="20" fill="#fdd0a2"/>
<rect x="1572" y="1079" width="40" height="20" fill="#fff5eb"/>
<rect x="232" y="1099" width="20" height="20" fill="#fff5eb"/>
<rect x="252" y="1099" width="20" height="20" fill="#fee6ce"/>
<rect x="272" y="1099" width="20" height="20" fill="#fdd0a2"/>
<rect x="292" y="1099" width="80" height="20" fill="#fdae6b"/>
<rect x="372" y="1099" width="20" height="20" fill="#fee6ce"/>
<rect x="392" y="1099" width="40" height="20" fill="#fdd0a2"/>
<rect x="432" y="1099" width="80" height="20" fill="#fdae6b"/>
<rect x="512" y="1099" width="20" height="20" fill="#fdd0a2"/>
<rect x="532" y="1099" width="20" height="20" fill="#fee6ce"/>
<rect x="572" y="1099" width="60" height="20" fill="#fff5eb"/>
<rect x="652" y="1099" width="20" height="20" fill="#fff5eb"/>
<rect x="672" y="1099" width="100" height="20" fill="#fee6ce"/>
<rect x="772" y="1099" width="40" height="20" fill="#fdd0a2"/>
<rect x="812" y="1099" width="20" height="20" fill="#fdae6b"/>
<rect x="832" y="1099" width="20" height="20" fill="#fdd0a2"/>
<rect x="852" y="1099" width="60" height="20" fill="#fdae6b"/>
<rect x="912" y="1099" width="20" height="20" fill="#fdd0a2"/>
<rect x="932" y="1099" width="40" height="20" fill="#fee6ce"/>
<rect x="972" y="1099" width="40" height="20" fill="#fff5eb"/>
<rect x="232" y="1119" width="20" height="20" fill="#fff5eb"/>
<rect x="252" y="1119" width="20" height="20" fill="#fee6ce"/>
<rect x="272" y="1119" width="20" height="20" fill="#fdd0a2"/>
<rect x="292" y="1119" width="100" height="20" fill="#fdae6b"/>
<rect x="392" y="1119" width="20" height="20" fill="#fdd0a2"/>
<rect x="412" y="1119" width="20" height="20" fill="#fff5eb"/>
<rect x="432" y="1119" width="60" height="20" fill="#fdae6b"/>
<rect x="492" y="1119" width="20" height="20" fill="#fdd0a2"/>
<rect x="532" y="1119" width="20" height="20" fill="#fff5eb"/>
<rect x="572" y="1119" width="20" height="20" fill="#fff5eb"/>
<rect x="612" y="1119" width="160" height="20" fill="#fff5eb"/>
<rect x="772" y="1119" width="20" height="20" fill="#fee6ce"/>
<rect x="792" y="1119" width="40" height="20" fill="#fdd0a2"/>
<rect x="832" y="1119" width="80" height="20" fill="#fdae6b"/>
<rect x="912" y="1119" width="20" height="20" fill="#fdd0a2"/>
<rect x="932" y="1119" width="40" height="20" fill="#fee6ce"/>
<rect x="972" y="1119" width="20" height="20" fill="#fff5eb"/>
<rect x="232" y="1139" width="20" height="20" fill="#fff5eb"/>
<rect x="252" y="1139" width="20" height="20" fill="#fee6ce"/>
<rect x="272" y="1139" width="20" height="20" fill="#fdd0a2"/>
<rect x="292" y="1139" width="100" height="20" fill="#fdae6b"/>
<rect x="392" y="1139" width="20" height="20" fill="#fdd0a2"/>
<rect x="412" y="1139" width="20" height="20" fill="#fee6ce"/>
<rect x="432" y="1139" width="60" height="20" fill="#fdae6b"/>
<rect x="492" y="1139" width="20" height="20" fill="#fdd0a2"/>
<rect x="512" y="1139" width="80" height="20" fill="#fff5eb"/>
<rect x="612" y="1139" width="160" height="20" fill="#fff5eb"/>
<rect x="772" y="1139" width="20" height="20" fill="#fee6ce"/>
<rect x="792" y="1139" width="40" height="20" fill="#fdd0a2"/>
<rect x="832" y="1139" width="80" height="20" fill="#fdae6b"/>
<rect x="912" y="1139" width="20" height="20" fill="#fdd0a2"/>
<rect x="932" y="1139" width="40" height="20" fill="#fee6ce"/>
<rect x="972" y="1139" width="20" height="20" fill="#fff5eb"/>
<rect x="272" y="1159" width="40" height="20" fill="#fee6ce"/>
<rect x="312" y="1159" width="60" height="20" fill="#fdd0a2"/>
<rect x="372" y="1159" width="20" height="20" fill="#fdae6b"/>
<rect x="392" y="1159" width="100" height="20" fill="#fdd0a2"/>
<rect x="492" y="1159" width="20" height="20" fill="#fee6ce"/>
<rect x="512" y="1159" width="240" height="20" fill="#fff5eb"/>
<rect x="752" y="1159" width="160" height="20" fill="#fee6ce"/>
<rect x="912" y="1159" width="60" height="20" fill="#fff5eb"/>
<rect x="1652" y="1159" width="40" height="20" fill="#fff5eb"/>
<rect x="1752" y="1159" width="20" height="20" fill="#fff5eb"/>
<rect x="272" y="1179" width="20" height="20" fill="#fff5eb"/>
<rect x="292" y="1179" width="20" height="20" fill="#fee6ce"/>
<rect x="312" y="1179" width="60" height="20" fill="#fdd0a2"/>
<rect x="372" y="1179" width="20" height="20" fill="#fdae6b"/>
<rect x="392" y="1179" width="100" height="20" fill="#fdd0a2"/>
<rect x="492" y="1179" width="20" height="20" fill="#fee6ce"/>
<rect x="512" y="1179" width="240" height="20" fill="#fff5eb"/>
<rect x="752" y="1179" width="160" height="20" fill="#fee6ce"/>
<rect x="912" y="1179" width="60" height="20" fill="#fff5eb"/>
<rect x="1632" y="1179" width="20" height="20" fill="#fff5eb"/>
<rect x="1652" y="1179" width="20" height="20" fill="#fdd0a2"/>
<rect x="1672" y="1179" width="40" height="20" fill="#fee6ce"/>
<rect x="1752" y="1179" width="20" height="20" fill="#fff5eb"/>
<rect x="292" y="1199" width="20" height="20" fill="#fff5eb"/>
<rect x="312" y="1199" width="20" height="20" fill="#fee6ce"/>
<rect x="332" y="1199" width="160" height="20" fill="#fdd0a2"/>
<rect x="492" y="1199" width="20" height="20" fill="#fee6ce"/>
<rect x="512" y="1199" width="240" height="20" fill="#fff5eb"/>
<rect x="752" y="1199" width="160" height="20" fill="#fee6ce"/>
<rect x="912" y="1199" width="60" height="20" fill="#fff5eb"/>
<rect x="1272" y="1199" width="120" height="20" fill="#fff5eb"/>
<rect x="1612" y="1199" width="60" height="20" fill="#fee6ce"/>
<rect x="1672" y="1199" width="20" height="20" fill="#fdd0a2"/>
<rect x="1692" y="1199" width="80" height="20" fill="#fff5eb"/>
<rect x="292" y="1219" width="20" height="20" fill="#fff5eb"/>
<rect x="312" y="1219" width="20" height="20" fill="#fee6ce"/>
<rect x="332" y="1219" width="180" height="20" fill="#fdd0a2"/>
<rect x="512" y="1219" width="20" height="20" fill="#fee6ce"/>
<rect x="532" y="1219" width="220" height="20" fill="#fff5eb"/>
<rect x="752" y="1219" width="160" height="20" fill="#fee6ce"/>
<rect x="912" y="1219" width="60" height="20" fill="#fff5eb"/>
<rect x="1272" y="1219" width="120" height="20" fill="#fff5eb"/>
<rect x="1612" y="1219" width="20" height="20" fill="#fee6ce"/>
<rect x="1632" y="1219" width="40" height="20" fill="#fdae6b"/>
<rect x="1672" y="1219" width="20" height="20" fill="#fee6ce"/>
<rect x="1692" y="1219" width="20" height="20" fill="#fdd0a2"/>
<rect x="1712" y="1219" width="20" height="20" fill="#fee6ce"/>
<rect x="1732" y="1219" width="20" height="20" fill="#fff5eb"/>
<rect x="1752" y="1219" width="20" height="20" fill="#fee6ce"/>
<rect x="312" y="1239" width="20" height="20" fill="#fff5eb"/>
<rect x="332" y="1239" width="20" height="20" fill="#fee6ce"/>
<rect x="352" y="1239" width="160" height="20" fill="#fdd0a2"/>
<rect x="512" y="1239" width="20" height="20" fill="#fee6ce"/>
<rect x="532" y="1239" width="220" height="20" fill="#fff5eb"/>
<rect x="752" y="1239" width="160" height="20" fill="#fee6ce"/>
<rect x="912" y="1239" width="60" height="20" fill="#fff5eb"/>
<rect x="1272" y="1239" width="120" height="20" fill="#fff5eb"/>
<rect x="1612" y="1239" width="40" height="20" fill="#fff5eb"/>
<rect x="1672" y="1239" width="20" height="20" fill="#fff5eb"/>
<rect x="1692" y="1239" width="20" height="20" fill="#fdd0a2"/>
<rect x="1712" y="1239" width="60" height="20" fill="#fee6ce"/>
<rect x="312" y="1259" width="20" height="20" fill="#fff5eb"/>
<rect x="332" y="1259" width="20" height="20" fill="#fee6ce"/>
<rect x="352" y="1259" width="80" height="20" fill="#fdd0a2"/>
<rect x="432" y="1259" width="100" height="20" fill="#fdae6b"/>
<rect x="532" y="1259" width="20" height="20" fill="#fee6ce"/>
<rect x="552" y="1259" width="200" height="20" fill="#fff5eb"/>
<rect x="752" y="1259" width="160" height="20" fill="#fee6ce"/>
<rect x="912" y="1259" width="60" height="20" fill="#fff5eb"/>
<rect x="1272" y="1259" width="120" height="20" fill="#fff5eb"/>
<rect x="1692" y="1259" width="40" height="20" fill="#fff5eb"/>
<rect x="1732" y="1259" width="20" height="20" fill="#fee6ce"/>
<rect x="1752" y="1259" width="20" height="20" fill="#fdd0a2"/>
<rect x="312" y="1279" width="20" height="20" fill="#fff5eb"/>
<rect x="332" y="1279" width="20" height="20" fill="#fee6ce"/>
<rect x="352" y="1279" width="80" height="20" fill="#fdd0a2"/>
<rect x="432" y="1279" width="100" height="20" fill="#fdae6b"/>
<rect x="532" y="1279" width="40" height="20" fill="#fd8d3c"/>
<rect x="572" y="1279" width="20" height="20" fill="#fdae6b"/>
<rect x="592" y="1279" width="20" height="20" fill="#fee6ce"/>
<rect x="612" y="1279" width="20" height="20" fill="#fdd0a2"/>
<rect x="632" y="1279" width="40" height="20" fill="#fff5eb"/>
<rect x="692" y="1279" width="20" height="20" fill="#fff5eb"/>
<rect x="712" y="1279" width="20" height="20" fill="#fee6ce"/>
<rect x="732" y="1279" width="20" height="20" fill="#fff5eb"/>
<rect x="752" y="1279" width="40" height="20" fill="#fee6ce"/>
<rect x="832" y="1279" width="20" height="20" fill="#fee6ce"/>
<rect x="852" y="1279" width="20" height="20" fill="#fff5eb"/>
<rect x="872" y="1279" width="40" height="20" fill="#fee6ce"/>
<rect x="1132" y="1279" width="40" height="20" fill="#fff5eb"/>
<rect x="1212" y="1279" width="20" height="20" fill="#fff5eb"/>
<rect x="1292" y="1279" width="40" height="20" fill="#fff5eb"/>
<rect x="1712" y="1279" width="20" height="20" fill="#fff5eb"/>
<rect x="1732" y="1279" width="40" height="20" fill="#fee6ce"/>
<rect x="312" y="1299" width="20" height="20" fill="#fff5eb"/>
<rect x="332" y="1299" width="20" height="20" fill="#fee6ce"/>
<rect x="352" y="1299" width="80" height="20" fill="#fdd0a2"/>
<rect x="432" y="1299" width="100" height="20" fill="#fdae6b"/>
<rect x="532" y="1299" width="40" height="20" fill="#fd8d3c"/>
<rect x="572" y="1299" width="20" height="20" fill="#fdae6b"/>
<rect x="592" y="1299" width="20" height="20" fill="#fee6ce"/>
<rect x="612" y="1299" width="20" height="20" fill="#fdd0a2"/>
<rect x="632" y="1299" width="40" height="20" fill="#fff5eb"/>
<rect x="692" y="1299" width="20" height="20" fill="#fff5eb"/>
<rect x="712" y="1299" width="20" height="20" fill="#fee6ce"/>
<rect x="732" y="1299" width="20" height="20" fill="#fff5eb"/>
<rect x="752" y="1299" width="40" height="20" fill="#fee6ce"/>
<rect x="832" y="1299" width="20" height="20" fill="#fee6ce"/>
<rect x="852" y="1299" width="20" height="20" fill="#fff5eb"/>
<rect x="872" y="1299" width="40" height="20" fill="#fee6ce"/>
<rect x="1132" y="1299" width="40" height="20" fill="#fff5eb"/>
<rect x="1212" y="1299" width="20" height="20" fill="#fff5eb"/>
<rect x="1292" y="1299" width="40" height="20" fill="#fff5eb"/>
<rect x="1712" y="1299" width="20" height="20" fill="#fff5eb"/>
<rect x="1732" y="1299" width="40" height="20" fill="#fee6ce"/>
</g>
<g fill="none" stroke="#000" stroke-linejoin="round" stroke-linecap="round">
<path d="M159 99 L164 109 L170 116 L177 124 L180 133 L186 135 L193 136 L200 133 L202 130 L199 137 L190 142 L189 145 L195 153 L204 160 L213 167 L222 172 L228 170 L229 167 L230 158 L229 149 L226 142 L220 133 L211 125 L205 117 L204 109 L202 99" stroke-width="4.7"/>
<path d="M213 99 L216 107 L222 113 L227 122 L235 129 L240 136 L242 144 L244 151 L249 156" stroke-width="4.7"/>
<path d="M233 99 L237 106 L232 112 L238 118 L244 121 L240 127 L246 131 L242 137 L250 140" stroke-width="4.5"/>
<path d="M226 99 L230 104 L224 108" stroke-width="4.3"/>
<path d="M236 186 L231 183 L222 180 L211 176 L204 169 L194 162 L192 176 L193 185 L194 194 L195 207 L194 218 L197 221 L193 226 L193 233 L190 239 L187 245" stroke-width="4.5"/>
<path d="M236 186 L240 194 L238 199 L229 206 L222 212 L224 221 L231 224 L240 219 L244 212 L249 203 L252 194 L252 180 L251 167 L249 156" stroke-width="5.8"/>
<path d="M238 166 L244 164 L247 170 L241 174" stroke-width="6.3"/>
<path d="M244 180 L248 192 L246 203 L240 211 L232 215 L228 221" stroke-width="6.8"/>
<path d="M238 190 L242 200" stroke-width="5.8"/>
<path d="M187 245 L186 255 L183 271 L178 285 L170 307 L162 325 L156 339 L150 350 L144 353 L135 367 L134 379 L132 395 L133 400 L132 410 L133 424 L126 436 L120 446 L112 454 L110 464 L116 476 L120 488 L116 500 L114 510 L114 520 L120 532 L126 542 L128 552 L124 560 L130 564 L136 568 L134 580 L132 592 L138 604 L146 610 L144 618 L139 624 L139 632 L144 642 L150 658 L158 670 L162 680 L164 690 L160 695 L159 705 L166 711 L174 713 L188 717 L196 725 L200 733 L210 739 L218 741 L222 749 L228 753 L236 759 L244 771 L248 783 L248 797 L250 805 L252 815 L256 829 L256 841 L260 853 L264 869 L268 883 L270 897 L272 905 L272 917 L278 929 L290 939 L298 949 L305 962 L314 975 L315 988 L308 1000 L302 1004 L286 1000 L280 1000 L286 1012 L294 1024 L304 1034 L316 1048 L328 1050 L336 1046 L338 1058 L348 1070 L358 1080 L362 1092 L364 1108 L360 1118 L354 1130 L358 1140 L364 1144 L380 1156 L400 1172 L412 1186 L420 1200 L424 1216 L430 1218 L440 1212 L444 1200 L436 1190 L428 1180 L420 1166 L412 1160 L406 1152 L408 1140 L408 1132 L404 1120 L400 1108 L396 1096 L392 1076 L386 1064 L380 1052 L374 1040 L366 1024 L358 1012 L356 996 L352 980 L345 968 L340 961 L334 949 L326 937 L316 929 L310 919 L312 905 L310 885 L310 865 L314 847 L320 853 L334 859 L344 863 L352 867 L354 875 L370 885 L366 901 L370 915 L374 935 L380 955 L376 966 L374 972 L378 980 L384 977 L390 986 L400 1000 L410 1016 L420 1022 L430 1026 L430 1040 L436 1050 L446 1058 L452 1070 L460 1074 L468 1084 L470 1094 L460 1098 L460 1112 L472 1120 L478 1122 L484 1130 L496 1140 L510 1160 L520 1172 L530 1186 L540 1200 L552 1220 L564 1240 L574 1260 L576 1276 L584 1288 L588 1296 L590 1312" stroke-width="4.3"/>
<path d="M136 568 L142 559 L150 562 L168 569" stroke-width="4.3"/>
<path d="M138 566 L145 586" stroke-width="4.3"/>
<path d="M158 725 L166 729 L174 730 L182 733 L188 733" stroke-width="4.9"/>
<path d="M178 761 L184 764" stroke-width="5.8"/>
<path d="M212 762 L218 768" stroke-width="6.3"/>
<path d="M207 778 L212 787" stroke-width="6.3"/>
<path d="M179 924 L180 935" stroke-width="6.3"/>
<path d="M272 979 L276 988 L271 985 Z" stroke-width="4.3"/>
<path d="M300 1002 L306 1004 L309 1011" stroke-width="5.3"/>
<path d="M372 962 L380 966 L382 978 L376 976 Z" stroke-width="4.3"/>
<path d="M376 1057 L382 1062 L384 1068 L378 1065 Z" stroke-width="4.3"/>
<path d="M396 1091 L399 1097" stroke-width="5.3"/>
<path d="M408 1131 L412 1139" stroke-width="6.3"/>
<path d="M538 1284 L539 1290" stroke-width="6.3"/>
<path d="M1191 285 L1201 287" stroke-width="5.3"/>
<path d="M250 153 L320 172 L390 190 L466 204 L570 223 L650 234 L720 242 L790 247 L900 253 L952 253" stroke-width="4.1"/>
<path d="M952 253 L952 236 L956 237 L958 247 L960 257 L966 261 L980 265 L988 269 L998 265 L1008 267 L1020 275 L1024 278 L1032 277 L1044 285 L1050 285 L1060 279 L1070 282 L1084 283 L1100 285" stroke-width="4.3"/>
<path d="M430 99 L434 111 L442 121 L448 135 L456 143 L460 151 L461 165 L458 177 L456 183 L459 191 L466 199 L468 205" stroke-width="4.3"/>
<path d="M589 99 L571 222" stroke-width="4.1"/>
<path d="M791 99 L791 247" stroke-width="4.1"/>
<path d="M950 99 L951 253" stroke-width="4.1"/>
<path d="M1338 145 L1360 271 L1364 281 L1372 293 L1384 307 L1392 311 L1412 312 L1428 315 L1440 321 L1446 321 L1456 331 L1468 331 L1480 327 L1493 319 L1504 315 L1513 317 L1524 316" stroke-width="4.3"/>
<path d="M1510 317 L1510 327 L1516 330" stroke-width="4.1"/>
<path d="M390 193 L368 305" stroke-width="4.1"/>
<path d="M187 245 L194 249 L204 253 L211 257 L214 265 L215 279 L222 284 L230 286 L238 284 L248 287 L256 292 L270 294 L282 293 L290 292 L314 292 L368 305" stroke-width="4.3"/>
<path d="M368 305 L372 311 L379 321 L370 335 L358 353 L348 363 L349 369 L354 373 L350 383 L348 395 L334 454" stroke-width="4.3"/>
<path d="M134 401 L248 434 L334 454 L390 466 L416 474 L498 487" stroke-width="4.1"/>
<path d="M248 434 L222 544 L348 734" stroke-width="4.1"/>
<path d="M416 474 L380 658 L376 687" stroke-width="4.1"/>
<path d="M376 687 L370 693 L360 689 L352 695 L350 717 L346 735 L350 751 L358 761 L346 769 L342 777 L334 789 L332 797 L336 809 L332 817" stroke-width="4.3"/>
<path d="M250 807 L332 817" stroke-width="4.1"/>
<path d="M332 818 L380 858 L434 891 L500 901" stroke-width="4.1"/>
<path d="M500 901 L529 904 L530 888 L584 891" stroke-width="4.1"/>
<path d="M416 199 L409 233 L412 239 L416 255 L424 269 L430 281 L434 291 L442 295 L438 307 L434 323 L430 327 L431 335 L440 337 L448 335 L450 347 L454 361 L458 373 L463 379 L464 387 L468 389 L480 387 L492 389 L500 388 L506 383 L512 385 L517 394" stroke-width="4.3"/>
<path d="M518 373 L516 390 L498 487 L494 526" stroke-width="4.1"/>
<path d="M518 373 L614 385 L710 395" stroke-width="4.1"/>
<path d="M722 243 L698 549" stroke-width="4.1"/>
<path d="M714 361 L740 362 L830 367 L914 371" stroke-width="4.1"/>
<path d="M704 474 L740 477 L860 482 L872 490 L884 488 L896 489 L910 496" stroke-width="4.3"/>
<path d="M494 526 L552 536 L698 549 L754 555 L752 593" stroke-width="4.1"/>
<path d="M752 593 L946 599" stroke-width="4.1"/>
<path d="M752 593 L745 706" stroke-width="4.1"/>
<path d="M552 536 L500 901" stroke-width="4.1"/>
<path d="M380 658 L455 672 L530 686 L620 697 L712 705 L740 707 L850 711 L970 713" stroke-width="4.1"/>
<path d="M714 705 L698 896" stroke-width="4.1"/>
<path d="M714 725 L740 726 L804 729" stroke-width="4.1"/>
<path d="M804 729 L802 803" stroke-width="4.1"/>
<path d="M802 803 L808 807 L816 811 L824 809 L828 817 L840 821 L850 823 L856 821 L864 823 L868 833 L878 829 L888 835 L894 838 L900 831 L910 833 L920 839 L928 834 L940 831 L948 833 L956 829 L966 837 L980 844 L992 844" stroke-width="4.5"/>
<path d="M580 884 L698 896" stroke-width="4.1"/>
<path d="M582 887 L590 895 L596 905 L606 917 L616 929 L630 943 L638 958 L640 970 L648 984 L664 998 L676 1006 L686 1010 L696 1002 L700 992 L708 984 L718 980 L730 983 L744 984 L752 990 L760 998 L770 1012 L776 1024 L782 1038 L790 1048 L798 1060 L808 1074 L810 1088 L814 1100 L820 1114 L826 1118 L840 1124 L854 1130 L870 1134 L880 1138 L886 1142" stroke-width="4.5"/>
<path d="M946 599 L960 604 L958 614 L964 626 L970 632 L972 690 L972 733 L978 765 L980 844" stroke-width="4.3"/>
<path d="M992 844 L994 865" stroke-width="4.1"/>
<path d="M994 865 L1084 862" stroke-width="4.1"/>
<path d="M994 865 L994 905 L1000 911 L1006 925 L1010 940 L1008 952 L1006 964 L1002 980 L1004 988" stroke-width="4.3"/>
<path d="M972 732 L1088 728 L1090 744 L1106 743" stroke-width="4.1"/>
<path d="M898 253 L900 271 L900 287 L906 303 L908 325 L910 351 L914 363 L914 371 L908 377 L906 383 L912 389 L916 395 L916 464" stroke-width="4.3"/>
<path d="M914 464 L1060 461" stroke-width="4.1"/>
<path d="M914 464 L916 476 L914 486 L911 494" stroke-width="4.3"/>
<path d="M911 494 L918 506 L926 526 L932 546 L934 570 L940 588 L946 598" stroke-width="4.3"/>
<path d="M936 574 L1054 571 L1062 578" stroke-width="4.1"/>
<path d="M1028 341 L1028 361 L1020 367 L1014 379 L1016 387 L1018 395 L1016 410 L1024 420 L1040 430 L1054 438 L1060 448 L1062 460 L1065 466 L1066 474 L1068 486 L1080 494 L1090 504 L1094 514 L1092 526 L1082 536 L1072 542 L1072 550 L1074 556 L1072 564 L1068 570 L1064 574 L1062 582 L1062 594 L1066 602 L1076 612 L1084 622 L1090 632 L1100 634 L1106 638 L1102 650 L1110 666 L1120 676 L1126 686 L1136 701 L1138 711 L1130 725 L1124 741 L1120 755 L1114 771 L1108 785 L1100 802 L1090 815 L1084 833 L1086 855 L1088 875 L1094 889 L1084 905 L1076 925 L1072 939" stroke-width="4.5"/>
<path d="M1072.4 939.4 L1100 938 L1136.9 936.3" stroke-width="4.1"/>
<path d="M1136.9 936.3 L1134.5 947.2 L1137.6 952.6 L1141.5 958.8 L1144.6 966.6" stroke-width="4.3"/>
<path d="M1115.9 969.7 L1122.1 961.2 L1128.3 961.9 L1137.6 968.1 L1140.7 972.8 L1137.6 975.9 L1129.9 973.6 L1122.1 974.3 Z" stroke-width="4.5"/>
<path d="M1168 969.7 L1170.2 975.9 L1166.4 986.8" stroke-width="5.5"/>
<path d="M1157 966.6 L1155.5 972.8" stroke-width="5.8"/>
<path d="M1063 990 L1070 992 L1072 997 L1066 998 Z" stroke-width="5.3"/>
<path d="M1084 498 L1160 492" stroke-width="4.1"/>
<path d="M1134 700 L1150 698 L1160 694 L1164 685 L1168 673 L1172 667 L1182 665 L1196 667 L1208 661 L1220 655 L1232 653 L1240 645 L1246 629 L1256 627 L1264 622 L1265 612 L1276 613 L1284 621 L1294 625 L1304 625 L1314 623 L1322 621 L1330 630 L1336 631 L1344 621 L1344 614 L1350 606 L1352 598 L1360 588 L1370 578 L1374 566 L1378 550 L1376 538" stroke-width="4.5"/>
<path d="M1172 524 L1176 590 L1180 610 L1178 618 L1182 630 L1180 640 L1176 650 L1172 666 L1170 668" stroke-width="4.3"/>
<path d="M1250 511 L1262 612" stroke-width="4.1"/>
<path d="M1186 520 L1250 511 L1288 508 L1297 508" stroke-width="4.1"/>
<path d="M1330 630 L1334 642 L1340 650 L1350 660 L1360 668" stroke-width="4.3"/>
<path d="M1352 662 L1340 674 L1332 685 L1328 691 L1300 703" stroke-width="4.3"/>
<path d="M1360 668 L1374 666 L1388 660 L1396 654 L1404 646 L1408 630 L1416 610 L1426 608 L1432 602 L1440 592 L1448 578 L1451 567" stroke-width="4.3"/>
<path d="M1416 566 L1418 586 L1424 578 L1432 570 L1440 566 L1450 564 L1460 564 L1466 576 L1476 574 L1488 582 L1490 594 L1488 604 L1496 602 L1506 608 L1516 610" stroke-width="4.3"/>
<path d="M1370 488 L1384 570" stroke-width="4.1"/>
<path d="M1384 570 L1420 565 L1460 557 L1520 544 L1524 542" stroke-width="4.1"/>
<path d="M1390 475 L1391 482 L1460 469 L1514 458 L1524 462 L1528 470 L1536 477" stroke-width="4.1"/>
<path d="M1536 478 L1530 494 L1532 502 L1532 510 L1544 520 L1540 530 L1532 536 L1524 542" stroke-width="4.3"/>
<path d="M1536 478 L1564 486" stroke-width="4.1"/>
<path d="M1524 542 L1520 546 L1522 550 L1528 570 L1534 594 L1550 590" stroke-width="4.1"/>
<path d="M1524 542 L1530 548 L1534 556 L1540 560 L1548 562 L1552 568" stroke-width="4.3"/>
<path d="M1552 568 L1560 554 L1564 544 L1568 530 L1570 514 L1568 504 L1562 502" stroke-width="4.5"/>
<path d="M1528 543 L1535 557 L1543 565 L1550 577 L1553 590 L1552 603 L1547 615 L1543 623 L1540 637 L1538 642" stroke-width="4.7"/>
<path d="M1505 557 L1503 568 L1510 582 L1508 595 L1518 607 L1523 620 L1527 633 L1525 643 L1530 655" stroke-width="5.7"/>
<path d="M1507 566 L1512 575 L1509 588" stroke-width="5.3"/>
<path d="M1525 543 L1523 557 L1520 573 L1525 590 L1533 603 L1537 615 L1538 627 L1537 642" stroke-width="5.3"/>
<path d="M1495 612 L1508 620 L1522 633 L1527 640" stroke-width="5.5"/>
<path d="M1497 643 L1513 647 L1525 653 L1530 655" stroke-width="5.7"/>
<path d="M1537 642 L1538 653 L1547 663 L1555 677 L1563 690 L1567 700 L1567 710 L1557 717" stroke-width="4.7"/>
<path d="M1128 725 L1174 721 L1176 715 L1240 710 L1308 704 L1368 695 L1420 686 L1460 679 L1540 664" stroke-width="4.1"/>
<path d="M1100 727 L1112 729 L1108 743 L1100 745" stroke-width="4.1"/>
<path d="M1112 783 L1174 778 L1256 773 L1334 761" stroke-width="4.1"/>
<path d="M1296 764 L1298 755 L1310 745 L1320 739 L1336 725 L1348 719 L1360 711 L1368 697" stroke-width="4.3"/>
<path d="M1326 773 L1354 751 L1394 747 L1406 757 L1420 754 L1442 752 L1482 780" stroke-width="4.1"/>
<path d="M1326 773 L1340 781 L1354 799 L1376 817 L1386 829 L1398 841 L1408 855 L1416 863" stroke-width="4.3"/>
<path d="M1176 779 L1174 901 L1180 935 L1183 957" stroke-width="4.1"/>
<path d="M1256 774 L1276 851 L1288 873 L1284 885 L1288 901 L1290 917 L1298 933" stroke-width="4.1"/>
<path d="M1208 929 L1290 921" stroke-width="4.1"/>
<path d="M1208 929 L1210 945" stroke-width="4.1"/>
<path d="M1298 933 L1386 925 L1390 933 L1394 917 L1408 917" stroke-width="4.1"/>
<path d="M888 1142 L886 1120 L880 1100 L876 1088 L874 1082 L882 1076 L890 1060 L900 1052 L916 1042 L930 1036 L944 1026 L956 1016 L968 1004 L980 998 L992 992 L1004 988 L1020 987 L1034 991 L1050 994 L1060 986.8 L1067.8 985.2 L1075.5 988.3 L1081.7 993 L1088 994.5 L1089.5 1003.9 L1098.8 1009.3 L1106.6 1010.8 L1110.5 1005.4 L1117.5 1002.3 L1122.1 1005.4 L1126.8 1009.3 L1128.3 997.6 L1126 993 L1129.9 993.8 L1137.6 997.6 L1145.4 1001.5 L1149.3 1005.4 L1153.2 1009.3 L1155.5 1013.2 L1161.7 1010 L1165.6 1003.9 L1160.9 999.2 L1153.2 997.6 L1145.4 993.8 L1141.5 987.5 L1149.3 982.1 L1152.4 975.9 L1149.3 970.5 L1140.7 972.8 L1144.6 966.6 L1153.2 959.6 L1167.1 955.7 L1184.2 956.5 L1192 956.5 L1194.3 943.3 L1198.2 947.2 L1198 955 L1212 948 L1224 946 L1240 946 L1256 948 L1270 952 L1280 960 L1288 970 L1298 974 L1312 964 L1320 954 L1328 952 L1340 956 L1352 968 L1364 976 L1376 984 L1382 994 L1382 1008 L1380 1020 L1382 1032 L1392 1032 L1388 1044 L1400 1060 L1410 1068 L1416 1080 L1422 1080 L1426 1092 L1432 1100 L1442 1102 L1450 1114 L1456 1124 L1466 1124 L1476 1120 L1484 1114" stroke-width="4.5"/>
<path d="M888 1142 L884 1160 L880 1180 L872 1200 L866 1220 L864 1240 L862 1260 L865 1275 L870 1292 L875 1312" stroke-width="4.3"/>
<path d="M960 992 L968 990 L972 998 L966 1002" stroke-width="4.3"/>
<path d="M1484 1114 L1482 1104 L1486 1096 L1484 1072 L1482 1056 L1476 1042 L1466 1024 L1456 1006 L1444 985 L1432 971 L1420 955 L1412 935 L1408 917 L1408 909 L1410 895 L1412 875 L1416 863 L1424 851 L1436 839 L1448 829 L1460 817 L1466 805 L1474 791 L1482 780 L1497 770 L1505 757 L1513 743 L1530 740 L1543 737 L1547 727 L1533 727 L1520 725" stroke-width="4.7"/>
<path d="M1518 710 L1533 710 L1547 707" stroke-width="5.3"/>
<path d="M1522 682 L1535 678 L1543 685 L1547 695 L1538 700" stroke-width="5.3"/>
<path d="M1553 718 L1567 712 L1568 698 L1563 687 L1553 673 L1543 657 L1540 652" stroke-width="4.7"/>
<path d="M1484 1116 L1476 1132 L1468 1140 L1458 1145" stroke-width="4.3"/>
<path d="M1100 283 L1104 275 L1108 265 L1114 261 L1120 253 L1128 244 L1136 243 L1148 247 L1160 247 L1176 249 L1182 259 L1188 269 L1196 275 L1206 276 L1220 276 L1220 289 L1227 294 L1229 307 L1234 314 L1240 326 L1245 331" stroke-width="4.5"/>
<path d="M1100 283 L1080 295 L1060 309 L1044 325 L1032 337 L1028 341" stroke-width="4.3"/>
<path d="M1028 341 L1036 338 L1052 333 L1066 327 L1072 334 L1080 340 L1091 333 L1107 326 L1121 319 L1130 308 L1139 303 L1147 302 L1140 308 L1133 316 L1131 327 L1139 323 L1151 324 L1160 335 L1172 337 L1183 333 L1195 328 L1208 324 L1220 321 L1222 331 L1231 333 L1240 331 L1245 331" stroke-width="4.5"/>
<path d="M1080 340 L1085 349 L1098 353 L1115 356 L1130 360 L1142 365 L1151 372 L1153 383 L1156 390" stroke-width="4.3"/>
<path d="M1106 289 L1112 284 L1120 280 L1125 277" stroke-width="7.8"/>
<path d="M1104 291 L1112 288" stroke-width="4.9"/>
<path d="M1156 390 L1154 401 L1149 411 L1151 415 L1158 408 L1163 399 L1169 390 L1176 379" stroke-width="4.3"/>
<path d="M1176 379 L1170 392 L1165 404 L1162 422 L1158 449 L1156 466 L1158 480 L1160 490 L1166 506 L1172 518 L1178 524 L1186 522 L1196 514 L1202 498 L1206 480 L1204 466 L1198 450 L1194 436 L1194 420 L1197 404 L1204 397 L1211 390 L1215 383 L1222 376 L1229 372 L1233 360" stroke-width="4.5"/>
<path d="M1156 390 L1162 379 L1171 362 L1179 365 L1186 360 L1195 355 L1204 351 L1213 347 L1222 347 L1231 351 L1234 349 L1257 346 L1275 347 L1293 349 L1307 349 L1314 353 L1316 358" stroke-width="4.5"/>
<path d="M1230 329 L1243 328 L1250 333 L1260 335 L1275 336 L1285 334 L1295 333.5 L1315 334 L1328 336 L1337 336 L1343 342 L1350 348 L1359 355 L1362 360 L1368 368 L1375 376" stroke-width="4.7"/>
<path d="M1245 338 L1255 342 L1268 345 L1282 347 L1292 345 L1300 342 L1308 340 L1316 345 L1316 353 L1314 360 L1304 357 L1292 352 L1278 350 L1264 349 L1252 347 Z" stroke-width="4.7"/>
<path d="M1294 343 L1300 345 L1304 342" stroke-width="4.3"/>
<path d="M1233 360 L1240 358 L1249 363 L1257 367 L1268 371 L1275 381 L1273 390 L1277 404 L1275 413 L1268 422 L1265 429 L1266 436 L1272 438 L1275 431 L1277 422 L1284 418 L1293 418 L1300 427 L1304 440 L1309 454 L1310 466" stroke-width="4.5"/>
<path d="M1211 365 L1213 368" stroke-width="6.3"/>
<path d="M1201 386 L1203 388" stroke-width="5.3"/>
<path d="M1215 388 L1216 393" stroke-width="5.8"/>
<path d="M1305 470 L1314 471 L1313 479 L1305 478 Z" stroke-width="4.3"/>
<path d="M1310 466 L1306 471" stroke-width="4.3"/>
<path d="M1305 479 L1302 490 L1296 508 L1300 512 L1310 516 L1320 514 L1330 510 L1340 506 L1356 498 L1370 488 L1390 476 L1406 464 L1410 446" stroke-width="4.5"/>
<path d="M1410 444 L1396 448 L1380 454 L1370 458 L1360 462 L1348 464 L1340 470 L1330 480 L1320 486 L1312 492 L1306 494 L1302 490" stroke-width="4.5"/>
<path d="M1366 459 L1380 461" stroke-width="4.3"/>
<path d="M1310 456 L1320 445 L1328 438 L1329 425 L1326 415 L1324 410 L1326 400 L1330 394 L1333 388 L1332 382 L1328 376 L1324 370 L1318 368 L1329 366 L1334 376 L1339 380 L1343 384 L1350 383 L1360 388 L1367 389 L1368 382 L1375 376" stroke-width="4.5"/>
<path d="M1410 446 L1406 438" stroke-width="4.3"/>
<path d="M1384 430 L1390 420 L1400 412 L1412 406 L1426 399 L1440 394 L1456 390 L1470 378 L1480 371 L1488 360" stroke-width="4.5"/>
<path d="M1384 432 L1404 438 L1412 442 L1420 436 L1440 422 L1460 418 L1472 410 L1478 402 L1482 386 L1488 362" stroke-width="4.5"/>
<path d="M1384 430 L1384 432" stroke-width="4.3"/>
<path d="M1272 99 L1286 103 L1300 109 L1310 119 L1316 129 L1324 129 L1334 133 L1340 143" stroke-width="4.5"/>
<path d="M1304 138 L1312 129" stroke-width="4.9"/>
<path d="M1332 129 L1334 117 L1338 111 L1344 113 L1348 119 L1352 113 L1350 105 L1344 99" stroke-width="4.5"/>
<path d="M1328 99 L1336 101" stroke-width="5.3"/>
<path d="M1542 335 L1548 355 L1552 375 L1558 393 L1566 410 L1568 440 L1572 474 L1568 479" stroke-width="4.1"/>
<path d="M1504 343 L1594 319" stroke-width="4.1"/>
<path d="M1594 309 L1592 335 L1586 349 L1584 365 L1585 390 L1586 408" stroke-width="4.1"/>
<path d="M1568 413 L1586 409 L1620 402 L1632 394 L1636 390" stroke-width="4.1"/>
<path d="M1600 309 L1634 390" stroke-width="4.1"/>
<path d="M1570 442 L1618 433 L1626 431" stroke-width="4.1"/>
<path d="M1618 433 L1620 456" stroke-width="4.1"/>
<path d="M1564 486 L1580 474 L1590 468 L1620 456 L1628 454 L1632 448 L1636 442" stroke-width="4.5"/>
<path d="M1564 486 L1566 478 L1563 471" stroke-width="4.3"/>
<path d="M1562 502 L1580 492 L1600 482 L1622 467 L1610 472 L1590 480 L1572 490 L1562 500 Z" stroke-width="4.5"/>
<path d="M1710 289 L1713 295 L1705 299 L1697 306 L1690 311 L1680 314 L1674 316 L1669 318 L1666 324 L1663 340 L1652 343 L1644 351 L1638 361 L1636 375 L1634 388 L1636 392 L1636 400 L1632 412 L1642 420 L1648 430 L1644 438 L1636 442 L1630 440" stroke-width="4.5"/>
<path d="M1648 438 L1656 430 L1666 430 L1668 424 L1660 418" stroke-width="4.9"/>
<path d="M1646 446 L1655 448" stroke-width="5.8"/>
<path d="M1665 444 L1671 446" stroke-width="6.3"/>
<path d="M1595 308 L1607 304 L1611 293 L1615 280 L1613 267 L1613 247 L1620 227 L1625 211 L1631 211" stroke-width="4.3"/>
<path d="M1625 211 L1631 212 L1636 217 L1651 208 L1665 214 L1680 263 L1690 265 L1695 274 L1699 281 L1705 282 L1710 289" stroke-width="4.5"/>
<path d="M1488 360 L1497 347 L1511 336 L1524 316 L1531 307 L1537 293 L1543 283 L1555 271 L1565 259 L1579 251 L1585 243 L1591 239" stroke-width="6.5"/>
<path d="M1591 239 L1596 224 L1601 211 L1605 197 L1606 189 L1612 179 L1615 171 L1617 160 L1622 150 L1632 138 L1646 128 L1651 118 L1653 99" stroke-width="4.5"/>
<path d="M1569 186.7 L1576 188.7 L1586.7 187.3 L1600 186.7 L1606 189.3" stroke-width="5.1"/>
<path d="M1591 239 L1600 229 L1605 219 L1611 204 L1615 192 L1621 180 L1629 169 L1639 160 L1652 147 L1668 135 L1684 125 L1700 117 L1718 113 L1730 117 L1736 125 L1736 139 L1730 149 L1720 157 L1702 159 L1698 163 L1680 171 L1660 179 L1643 187 L1645 205 L1633 217" stroke-width="4.5"/>
<path d="M1736 153 L1738 165 L1732 173 L1727 194 L1737 191 L1743 201 L1748 205 L1754 214 L1761 219 L1771 216 L1775 214" stroke-width="4.5"/>
<path d="M1712 282 L1727 274 L1731 264 L1736 267 L1746 258 L1757 245 L1763 238 L1771 230 L1775 228" stroke-width="4.5"/>
<path d="M1716 291 L1720 295" stroke-width="6.8"/>
<path d="M1760 231 L1765 235 L1760 254 L1767 255 L1771 246" stroke-width="4.5"/>
<path d="M1775 253 L1759 271 L1748 281 L1740 292 L1738 297 L1739 308 L1748 321 L1760 326 L1771 321 L1775 318" stroke-width="4.7"/>
<path d="M1757 185 L1762 183 L1766 195 L1772 200 L1770 208 L1764 200 L1758 195 Z" stroke-width="4.3"/>
<path d="M1519 1056 L1528 1061 L1540 1056 L1556 1049" stroke-width="4.7"/>
<path d="M1554 1040 L1566 1039 L1580 1046 L1588 1054 L1586 1066 L1584 1074 L1579 1070" stroke-width="4.7"/>
<path d="M1557 1108 L1564 1110 L1574 1122 L1578 1132 L1572 1138 L1564 1134 L1554 1132 L1558 1122 Z" stroke-width="4.7"/>
<path d="M1581 1109 L1591 1107" stroke-width="5.8"/>
<path d="M1605 1084 L1620 1090 L1630 1096 L1630 1106 L1632 1114" stroke-width="5.1"/>
<path d="M1647 1110 L1658 1118 L1666 1126 L1660 1128" stroke-width="5.1"/>
<path d="M1695 1123 L1696 1127" stroke-width="6.3"/>
<path d="M1670 1146 L1680 1158 L1684 1166 L1694 1172" stroke-width="5.1"/>
<path d="M1646 1152 L1660 1157" stroke-width="5.5"/>
<path d="M1714 1170 L1730 1172 L1720 1194" stroke-width="5.1"/>
<path d="M1758 1174 L1773 1176" stroke-width="5.3"/>
<path d="M1775 1206 L1768 1220 L1752 1230 L1752 1236 L1775 1230" stroke-width="4.5"/>
<path d="M1341 1269 L1352 1260 L1368 1250 L1390 1233 L1423 1220 L1464 1206 L1491 1205 L1532 1212 L1573 1220 L1601 1231 L1628 1242 L1640 1246 L1660 1248 L1676 1248 L1682 1252 L1680 1262 L1700 1258 L1720 1260 L1740 1266 L1742 1272 L1720 1282 L1708 1286 L1700 1290 L1660 1296 L1640 1302 L1620 1310" stroke-width="4.5"/>
<path d="M1341 1269 L1352 1266 L1375 1247 L1400 1237 L1430 1233 L1450 1240 L1470 1248 L1500 1249 L1540 1256 L1570 1263 L1586 1274 L1600 1280 L1624 1278 L1632 1284 L1628 1294 L1618 1310" stroke-width="4.5"/>
<path d="M1405 1266 L1412 1261 L1419 1268 L1414 1278 L1404 1276 Z" stroke-width="4.5"/>
<path d="M1335 1276 L1352 1278" stroke-width="4.3"/>
<path d="M1458 1145 L1440 1151 L1422 1157" stroke-width="4.3"/>
<path d="M1705 1305 L1740 1300 L1760 1294 L1776 1290" stroke-width="4.3"/>
</g>
<rect x="67.2" y="1144.4" width="1559.6" height="128.8" fill="#fff" fill-opacity="0.86" stroke="#000" stroke-width="3.6"/>
</g>
<text x="82" y="1196.5" class="t" xml:space="preserve">Valid: 2025-08-20 12:00 UTC to 2025-08-21 12:00 UTC</text>
<text x="82" y="1249.3" class="t" xml:space="preserve">Run:   2025-08-16 00:00 UTC</text>
<rect x="30.5" y="97.5" width="1744.0" height="1212.0" fill="none" stroke="#000" stroke-width="3"/>
<rect x="149.50" y="1312.30" width="215.57" height="20.00" fill="#fff5eb"/>
<rect x="364.57" y="1312.30" width="215.57" height="20.00" fill="#fee6ce"/>
<rect x="579.64" y="1312.30" width="215.57" height="20.00" fill="#fdd0a2"/>
<rect x="794.71" y="1312.30" width="215.57" height="20.00" fill="#fdae6b"/>
<rect x="1009.79" y="1312.30" width="215.57" height="20.00" fill="#fd8d3c"/>
<rect x="1224.86" y="1312.30" width="215.57" height="20.00" fill="#f16913"/>
<rect x="1439.93" y="1312.30" width="215.57" height="20.00" fill="#d94801"/>
<path d="M149.50 1312.30 L73 1322.30 L149.50 1332.30 Z" fill="#ffffff"/>
<path d="M1655.00 1312.30 L1730 1322.30 L1655.00 1332.30 Z" fill="#a63603"/>
<path d="M149.50 1312.30 L1655.00 1312.30 L1730 1322.30 L1655.00 1332.30 L149.50 1332.30 L73 1322.30 Z" fill="none" stroke="#000" stroke-width="2.6" stroke-linejoin="miter"/>
<line x1="149.50" y1="1332.30" x2="149.50" y2="1347" stroke="#000" stroke-width="2.6"/>
<line x1="364.57" y1="1332.30" x2="364.57" y2="1347" stroke="#000" stroke-width="2.6"/>
<line x1="579.64" y1="1332.30" x2="579.64" y2="1347" stroke="#000" stroke-width="2.6"/>
<line x1="794.71" y1="1332.30" x2="794.71" y2="1347" stroke="#000" stroke-width="2.6"/>
<line x1="1009.79" y1="1332.30" x2="1009.79" y2="1347" stroke="#000" stroke-width="2.6"/>
<line x1="1224.86" y1="1332.30" x2="1224.86" y2="1347" stroke="#000" stroke-width="2.6"/>
<line x1="1439.93" y1="1332.30" x2="1439.93" y2="1347" stroke="#000" stroke-width="2.6"/>
<line x1="1655.00" y1="1332.30" x2="1655.00" y2="1347" stroke="#000" stroke-width="2.6"/>
<text x="149.50" y="1397.5" text-anchor="middle" class="t">0.010</text>
<text x="364.57" y="1397.5" text-anchor="middle" class="t">0.025</text>
<text x="579.64" y="1397.5" text-anchor="middle" class="t">0.050</text>
<text x="794.71" y="1397.5" text-anchor="middle" class="t">0.100</text>
<text x="1009.79" y="1397.5" text-anchor="middle" class="t">0.500</text>
<text x="1224.86" y="1397.5" text-anchor="middle" class="t">1.000</text>
<text x="1439.93" y="1397.5" text-anchor="middle" class="t">2.000</text>
<text x="1655.00" y="1397.5" text-anchor="middle" class="t">3.000</text>
<text x="902" y="1462" text-anchor="middle" class="t">SCP Daily Sum</text>
<text x="29.5" y="73.4" class="ttl">GEFS Daily SCP Sum of Ensemble Mean</text>

<g id="niu">
<path d="M48 1380.5 L76.5 1389.5 L76.5 1469 L48 1478.5 L20.5 1469 L20.5 1389.5 Z" fill="#b5b5b5"/>
<path d="M48 1382.3 L75 1390.8 L75 1468 L48 1477 L22 1468 L22 1390.8 Z" fill="#262626"/>
<path d="M22 1452 Q48 1440 75 1436 L75 1468 L48 1477 L22 1468 Z" fill="#d00f1a"/>
<path d="M22 1450.5 Q48 1438.5 75 1434.5 L75 1437.2 Q48 1441.2 22 1453.2 Z" fill="#ffffff"/>
<path d="M30.5 1413 L67 1413 L67 1437 Q48 1440 30.5 1447 Z" fill="#ffffff"/>
<path d="M30.5 1413 L30.5 1399 L32.7 1393 L34.9 1399 L36 1405 L38 1407 L40 1405 L42 1401 L44 1405 L46 1400 L48.1 1395 L50.2 1400 L52 1405 L54 1401 L56 1405 L58 1407 L60 1405 L62 1399 L64.2 1393 L66.4 1399 L67 1413 Z" fill="#ffffff"/>
<rect x="35.5" y="1414.5" width="1.4" height="30" fill="#262626"/>
<rect x="60.2" y="1414.5" width="1.4" height="24" fill="#262626"/>
<rect x="40" y="1419.5" width="6" height="2" fill="#262626"/><rect x="50" y="1419.5" width="6" height="2" fill="#262626"/>
<rect x="40" y="1423.5" width="6" height="2" fill="#262626"/><rect x="50" y="1423.5" width="6" height="2" fill="#262626"/>
<rect x="40" y="1431.5" width="6" height="2" fill="#262626"/><rect x="50" y="1431.5" width="6" height="2" fill="#262626"/>
<rect x="40" y="1435.5" width="6" height="2" fill="#262626"/><rect x="50" y="1435.5" width="6" height="2" fill="#262626"/>
<rect x="40" y="1418" width="1.6" height="21" fill="#262626"/><rect x="50" y="1418" width="1.6" height="21" fill="#262626"/>
<text x="48.5" y="1467.3" text-anchor="middle" font-family="Liberation Sans, sans-serif" font-weight="bold" font-size="16.5" fill="#ffffff" letter-spacing="0.3">NIU</text>
</g>

</svg>
</body></html>
